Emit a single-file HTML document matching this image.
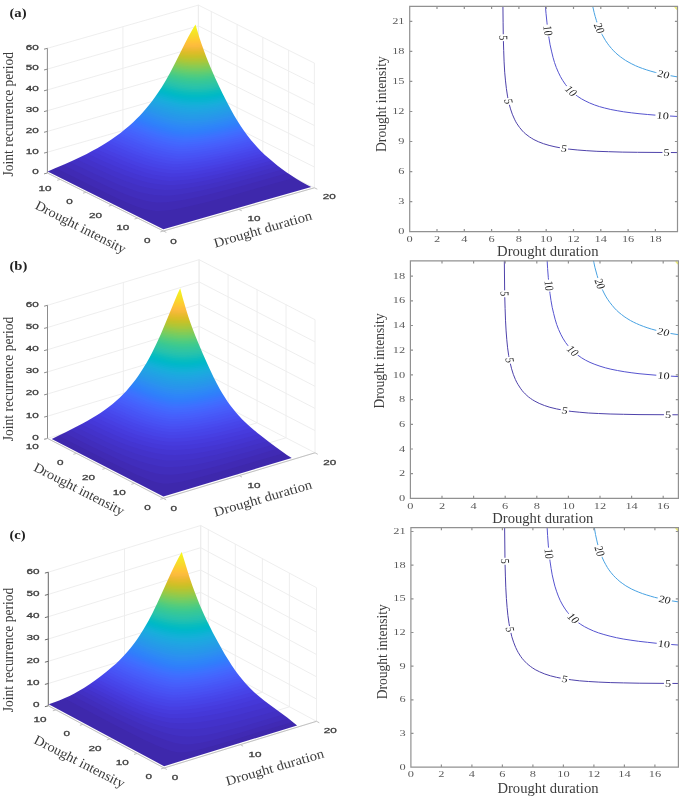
<!DOCTYPE html>
<html lang="en"><head><meta charset="utf-8"><title>Joint recurrence period of drought duration and intensity</title>
<style>html,body{margin:0;padding:0;background:#fff;overflow:hidden}svg{display:block}</style></head>
<body><svg width="685" height="800" viewBox="0 0 685 800">
<rect width="685" height="800" fill="#fff"/>
<g><path d="M47.4,173 L47.4,48.3 M122.9,151.4 L122.9,26.7 M198.4,129.8 L198.4,5.1 M47.4,173 L198.4,129.8 M198.4,129.8 L314.4,187.8 M47.4,152.2 L198.4,109 M198.4,109 L314.4,167 M47.4,131.4 L198.4,88.2 M198.4,88.2 L314.4,146.2 M47.4,110.7 L198.4,67.5 M198.4,67.5 L314.4,125.5 M47.4,89.9 L198.4,46.7 M198.4,46.7 L314.4,104.7 M47.4,69.1 L198.4,25.9 M198.4,25.9 L314.4,83.9 M47.4,48.3 L198.4,5.1 M198.4,5.1 L314.4,63.1 M314.4,187.8 L314.4,63.1 M288.6,174.9 L288.6,50.2 M262.8,162 L262.8,37.3 M237.1,149.1 L237.1,24.5 M211.3,136.2 L211.3,11.6 M198.4,129.8 L198.4,5.1 M163.4,231 L47.4,173 M238.9,209.4 L122.9,151.4 M163.4,231 L314.4,187.8 M137.6,218.1 L288.6,174.9 M111.8,205.2 L262.8,162 M86.1,192.3 L237.1,149.1 M60.3,179.4 L211.3,136.2" stroke="#ececec" stroke-width="0.9" fill="none"/>
<path d="M47.4,173 L47.4,48.3 M47.4,173 L44,173.9 M47.4,152.2 L44,153.1 M47.4,131.4 L44,132.3 M47.4,110.7 L44,111.6 M47.4,89.9 L44,90.8 M47.4,69.1 L44,70 M47.4,48.3 L44,49.2" stroke="#8c8c8c" stroke-width="1" fill="none"/>
<path d="M47.4,173 L163.4,231 M163.4,231 L314.4,187.8 M163.4,231 L160.3,231.9 M137.6,218.1 L134.5,219 M111.8,205.2 L108.8,206.1 M86.1,192.3 L83,193.2 M60.3,179.4 L57.2,180.3 M163.4,231 L166.3,232.4 M238.9,209.4 L241.8,210.8 M314.4,187.8 L317.3,189.2" stroke="#bcbcbc" stroke-width="0.9" fill="none"/>
<mask id="sila" maskUnits="userSpaceOnUse" x="0" y="0" width="685" height="800"><path d="M163.4,229.3L311.2,187 306.3,184.5 301.3,181.7 296.3,178.7 291.4,175.6 286.4,172.2 282.3,169.3 277.3,165.5 273.2,162.1 269.1,158.6 264.9,154.9 260.8,150.9 257.5,147.4 254.2,143.8 250.9,139.9 247.6,135.7 244.3,131.3 241,126.4 237.7,121.2 234.3,115.7 231,109.7 226.9,102 222.8,93.9 218.6,85.3 215.3,78.2 212,70.8 208.7,63 206.2,56.8 203.8,50.2 201.3,43.2 199.6,38.2 198,33 195.5,24.6 192.3,29.7 188.1,37.3 184.9,43.5 175.4,62.6 170.1,72.7 165.9,80.2 161.7,87.2 158.5,92.1 155.4,96.6 152.2,100.9 149,105 145.9,108.8 142.7,112.4 139.5,115.9 136.4,119.1 133.2,122.2 129,126 124.7,129.6 120.5,133 116.3,136.1 111,139.8 106.8,142.6 101.5,145.8 97.3,148.3 92,151.1 86.7,153.9 80.4,157 73,160.4 64.6,164.2 55,168.3 47.7,171.5 163.4,229.3Z" fill="#fff"/></mask>
<g mask="url(#sila)">
<rect x="44.7" y="21.6" width="269.6" height="210.7" fill="#3e28ac"/>
<path d="M55.6,168.1L103.2,191.5L117.7,198.4L128.4,203.2L136.1,206.3L143.2,208.7L149.4,210.1L152.4,210.6L155.8,210.9L158.8,211L163.4,210.8L171.4,209.9L181.2,208.1L193.8,205.2L209.2,201.4L229.8,195.9L294.7,177.7L302.7,177.7L302.7,21.6L47.6,21.6L47.6,168.1Z" fill="#402ab4"/>
<path d="M62.9,164.9L87.2,176.8L103.4,184.5L116.5,190.5L127.3,195L135.7,198L143.6,200.3L150.6,201.7L154.9,202.2L158.7,202.4L166.7,202.2L176.1,201.1L186,199.5L198.9,196.8L213.5,193.3L232.1,188.5L257.9,181.5L287.7,173.1L295.7,173.1L295.7,21.6L54.9,21.6L54.9,164.9Z" fill="#412dbc"/>
<path d="M69.7,161.9L91.7,172.5L106.5,179.3L118.2,184.4L128.7,188.5L138.3,191.7L146.8,193.8L154.5,195L162.3,195.6L170.1,195.4L179.7,194.4L191.1,192.6L202.9,190.2L217.7,186.8L235.3,182.3L256.9,176.5L282.5,169.4L290.5,169.4L290.5,21.6L61.7,21.6L61.7,161.9Z" fill="#4230c3"/>
<path d="M76.1,159L95.8,168.3L109,174.3L120,178.9L129.7,182.6L139.4,185.7L147.9,187.8L156.5,189.3L164.8,190L173.1,189.7L182.4,188.8L192.7,187.3L204.7,185L218.4,181.9L235.1,177.8L255.8,172.4L278.3,166.2L286.3,166.2L286.3,21.6L68.1,21.6L68.1,159Z" fill="#4332ca"/>
<path d="M82,156.2L100.1,164.7L112.5,170.2L123.7,174.8L132.7,178.1L141.5,180.8L150,182.9L158.6,184.3L167.2,185.1L175,184.9L184.8,184L195.1,182.5L206,180.5L219.9,177.4L235.5,173.6L254.1,168.8L274.6,163.3L282.6,163.3L282.6,21.6L74,21.6L74,156.2Z" fill="#4435d1"/>
<path d="M87.2,153.6L103.8,161.2L115.4,166.3L125.8,170.5L134.8,173.8L143.6,176.5L152.2,178.6L160.7,180L169.2,180.9L176.9,180.6L186.7,179.7L195.8,178.4L206.8,176.4L219.6,173.7L235.4,170L253,165.5L271.3,160.5L279.3,160.5L279.3,21.6L79.2,21.6L79.2,153.6Z" fill="#4538d8"/>
<path d="M92,151.2L107.8,158.3L118.6,163L128.1,166.8L137.2,170.1L146,172.7L154,174.7L161.8,176L170.2,177L178.1,176.8L187.1,176L197,174.6L208,172.6L220.9,169.9L235.6,166.5L251.1,162.6L268.4,158L276.4,158L276.4,21.6L84,21.6L84,151.2Z" fill="#463bdd"/>
<path d="M96.2,148.9L111.3,155.6L122.2,160.3L131.8,164L139.9,166.9L147.7,169.2L156.4,171.3L165,172.7L172,173.5L179.8,173.2L188.2,172.4L197.3,171.2L208.4,169.3L221.4,166.6L235,163.5L250.5,159.6L265.7,155.6L273.7,155.6L273.7,21.6L88.2,21.6L88.2,148.9Z" fill="#473fe2"/>
<path d="M100.1,146.7L114.3,153L125.3,157.6L135,161.4L143.3,164.2L151.2,166.5L158.8,168.2L167.5,169.6L174.3,170.2L182.9,169.8L191.5,168.9L200.6,167.6L210.4,165.8L222.1,163.4L234.7,160.5L249.1,157L263.2,153.2L271.2,153.2L271.2,21.6L92.1,21.6L92.1,146.7Z" fill="#4743e7"/>
<path d="M103.6,144.6L118,150.9L127.2,154.7L135.8,158.1L144.1,160.9L151.9,163.2L159.4,165L167.1,166.3L174.6,167.2L182.7,166.8L191.2,166L200.3,164.7L210.2,163L220.8,160.8L233.4,158L246.8,154.7L261,151L269,151L269,21.6L95.6,21.6L95.6,144.6Z" fill="#4746ea"/>
<path d="M106.9,142.5L129.6,152.3L138.4,155.6L145.6,158.1L153.4,160.4L160.9,162.2L167.9,163.4L175,164.2L181.3,164.1L189.8,163.3L199,162.1L209,160.5L220.9,158.1L232.4,155.6L245.8,152.3L258.9,148.9L266.9,148.9L266.9,21.6L98.9,21.6L98.9,142.5Z" fill="#484aee"/>
<path d="M109.9,140.6L131.8,149.9L140.6,153.2L147.9,155.7L155.8,158L163,159.6L170.5,160.9L176.8,161.5L183.1,161.3L191.3,160.5L200.5,159.3L210.4,157.6L219.9,155.7L231.5,153.2L243.8,150.2L256.9,146.8L264.9,146.8L264.9,21.6L101.9,21.6L101.9,140.6Z" fill="#484ef1"/>
<path d="M112.7,138.7L125.4,144.2L134.8,148L142.6,150.9L150,153.4L156.8,155.3L164.3,157.1L170.5,158.1L177,158.9L183.2,158.7L191.6,157.9L200.8,156.7L209.5,155.2L220.3,153.2L230.7,150.9L243.1,147.9L255.1,144.8L263.1,144.8L263.1,21.6L104.7,21.6L104.7,138.7Z" fill="#4852f4"/>
<path d="M115.3,136.9L136.6,145.7L144.4,148.7L151.8,151.1L158.7,153L166.3,154.8L173.1,155.8L178.8,156.4L185.2,156.1L193.5,155.3L201.3,154.2L211.3,152.5L220.8,150.7L231.2,148.4L242.4,145.7L253.4,142.9L261.4,142.9L261.4,21.6L107.3,21.6L107.3,136.9Z" fill="#4755f6"/>
<path d="M117.8,135.1L138.2,143.5L146.1,146.5L153.5,148.9L160.4,150.8L166.8,152.2L172.5,153.2L179,153.9L185.8,153.6L192.8,153L200.7,152L210.7,150.3L220.3,148.5L229.5,146.5L240.8,143.8L251.7,141L259.7,141L259.7,21.6L109.8,21.6L109.8,135.1Z" fill="#4759f8"/>
<path d="M120.1,133.3L139.6,141.4L146.6,143.9L153.9,146.4L160.7,148.3L167,149.8L172.7,150.8L179.1,151.5L183.9,151.5L192.2,150.8L200.2,149.8L209,148.4L218.7,146.6L228,144.6L238.1,142.2L250.2,139.1L258.2,139.1L258.2,21.6L112.1,21.6L112.1,133.3Z" fill="#475dfa"/>
<path d="M122.3,131.6L141.9,139.6L150,142.5L156.4,144.6L162.1,146.2L168.5,147.6L175.4,148.8L180.8,149.3L187.5,149L194.5,148.3L202.3,147.3L209.9,146.1L219.5,144.2L228.8,142.2L248.8,137.3L256.8,137.3L256.8,21.6L114.3,21.6L114.3,131.6Z" fill="#4660fc"/>
<path d="M124.4,129.9L143.2,137.5L150.2,140.1L156.5,142.2L162.2,143.8L168.5,145.2L174.3,146.3L180.8,147L187,146.8L194.1,146.2L202,145.2L209.6,144L218,142.4L227.4,140.4L247.4,135.5L255.4,135.5L255.4,21.6L116.4,21.6L116.4,129.9Z" fill="#4464fd"/>
<path d="M126.4,128.2L145.3,135.8L152.3,138.4L158.7,140.4L164.6,142L171,143.4L176.8,144.4L181.8,144.9L188.1,144.6L195.1,144L201.8,143.2L209.3,142L217.8,140.4L226,138.7L235.1,136.6L246.1,133.8L254.1,133.8L254.1,21.6L118.4,21.6L118.4,128.2Z" fill="#4368fe"/>
<path d="M128.3,126.6L146.3,133.8L152.3,136L158.7,138.1L164.4,139.7L170.7,141.1L176.4,142.1L181.4,142.7L186.3,142.6L193.5,142.1L201.6,141.2L209.2,140L217.7,138.4L225.9,136.7L244.8,132.1L252.8,132.1L252.8,21.6L120.3,21.6L120.3,126.6Z" fill="#406cfe"/>
<path d="M130.1,125L147.2,131.8L154.3,134.3L159.6,136.1L165.3,137.7L171.7,139.1L177.4,140.1L182.3,140.6L187.6,140.5L194.8,140L201.5,139.2L209.1,138L217.6,136.4L225.8,134.7L243.6,130.4L251.6,130.4L251.6,21.6L122.1,21.6L122.1,125Z" fill="#3e70ff"/>
<path d="M131.9,123.4L149,130.2L156.1,132.7L161.6,134.4L167.4,136L172.5,137.1L178.3,138.1L183.4,138.6L188.9,138.4L194.7,138L201.4,137.2L209.1,136.1L216.4,134.7L224.6,133L242.5,128.7L250.5,128.7L250.5,21.6L123.9,21.6L123.9,123.4Z" fill="#3a74fe"/>
<path d="M133.5,121.8L149.8,128.2L155.9,130.4L162.3,132.5L168.2,134L173.3,135.2L179.2,136.1L184,136.5L189.4,136.4L195.5,136L201.4,135.3L209.1,134.2L216.4,132.8L224.6,131.1L241.4,127.1L249.4,127.1L249.4,21.6L125.5,21.6L125.5,121.8Z" fill="#3678fd"/>
<path d="M135.2,120.3L150.5,126.3L157.6,128.8L163,130.5L168.9,132.1L174.1,133.2L179.6,134.1L183.7,134.5L188.7,134.5L194.6,134.1L201.4,133.4L207.9,132.5L215.3,131.2L223.5,129.5L240.3,125.4L248.3,125.4L248.3,21.6L127.2,21.6L127.2,120.3Z" fill="#327cfc"/>
<path d="M136.7,118.8L152.1,124.8L163.7,128.6L169.5,130.2L174.3,131.2L179.3,132L184,132.5L188.6,132.5L194.6,132.2L200.9,131.6L208,130.6L215.4,129.3L222.4,127.9L239.3,123.8L247.3,123.8L247.3,21.6L128.7,21.6L128.7,118.8Z" fill="#3080fa"/>
<path d="M138.2,117.2L153.7,123.2L159.9,125.3L165.4,127L170.1,128.3L175.3,129.4L179.7,130.1L184.8,130.6L189.2,130.6L194.7,130.3L201.6,129.6L208.1,128.7L215.5,127.5L222.6,126L238.3,122.3L246.3,122.3L246.3,21.6L130.2,21.6L130.2,117.2Z" fill="#2e84f9"/>
<path d="M139.7,115.7L154.2,121.3L160.4,123.5L165.9,125.1L170.7,126.4L175.9,127.5L180.3,128.2L185.1,128.6L189.9,128.7L195.3,128.4L200.4,127.9L207,127.1L214.4,125.8L221.6,124.4L237.3,120.7L245.3,120.7L245.3,21.6L131.7,21.6L131.7,115.7Z" fill="#2e87f7"/>
<path d="M141,114.2L155.7,119.8L161.9,121.9L167.5,123.6L172.4,124.8L177.8,125.8L182.5,126.4L186.1,126.7L190.5,126.8L195.8,126.5L201.9,126L207.2,125.3L213.4,124.2L220.6,122.8L236.4,119.1L244.4,119.1L244.4,21.6L133,21.6L133,114.2Z" fill="#2d8bf4"/>
<path d="M142.4,112.8L156.1,118L162.3,120.1L167.9,121.7L173.3,123L178.3,124L183,124.5L186.7,124.8L191,124.9L196.2,124.7L202.1,124.1L207.4,123.4L213.6,122.4L220.8,121L235.5,117.6L243.5,117.6L243.5,21.6L134.4,21.6L134.4,112.8Z" fill="#2c8ef1"/>
<path d="M143.7,111.3L157.5,116.5L168.3,119.9L173.2,121.1L177.3,121.9L181.9,122.5L186.8,122.9L191.5,123L196.6,122.8L202.3,122.3L207.4,121.7L219.8,119.5L234.6,116L242.6,116L242.6,21.6L135.7,21.6L135.7,111.3Z" fill="#2b92ef"/>
<path d="M145,109.9L157.8,114.6L163.1,116.4L168.7,118L173.6,119.2L177.7,120L182.3,120.6L186.9,121L191.9,121.1L196.9,121L206.6,120L212.9,119.1L218.9,117.9L233.7,114.5L241.7,114.5L241.7,21.6L137,21.6L137,109.9Z" fill="#2895ec"/>
<path d="M146.2,108.4L159.1,113.2L164.4,114.9L170.1,116.5L175.3,117.7L179.5,118.4L184.4,118.9L188.1,119.2L192.3,119.3L197.2,119.2L202.8,118.7L207.6,118.2L219.2,116.1L232.8,113L240.8,113L240.8,21.6L138.2,21.6L138.2,108.4Z" fill="#2798ea"/>
<path d="M147.4,107L160.4,111.7L170.2,114.6L175.6,115.8L179.9,116.5L184.7,117.1L188.3,117.4L192.5,117.5L197.4,117.4L201.7,117.1L207.1,116.5L218.3,114.6L232,111.5L240,111.5L240,21.6L139.4,21.6L139.4,107Z" fill="#259be8"/>
<path d="M148.5,105.6L160.6,109.9L170.7,112.9L175.9,114L180.1,114.7L188.6,115.6L192.8,115.7L197.6,115.6L202,115.3L207.4,114.7L218.6,112.8L231.2,110L239.2,110L239.2,21.6L140.5,21.6L140.5,105.6Z" fill="#249ee6"/>
<path d="M149.7,104.2L160.8,108.1L170.9,111.1L176.1,112.2L180.3,112.9L188.7,113.8L193.1,113.9L197.9,113.8L202.3,113.5L207.7,112.9L217.7,111.3L230.4,108.5L238.4,108.5L238.4,21.6L141.7,21.6L141.7,104.2Z" fill="#22a1e4"/>
<path d="M150.8,102.8L162,106.7L171.1,109.3L176.2,110.4L180.5,111.1L188.8,112L193.4,112.2L197.7,112.1L202.6,111.8L207.2,111.3L217.5,109.7L229.6,107L237.6,107L237.6,21.6L142.8,21.6L142.8,102.8Z" fill="#20a4e3"/>
<path d="M151.8,101.4L162.1,104.9L172.5,107.8L180.6,109.4L188.9,110.3L192.9,110.4L197.6,110.4L207.1,109.6L217.2,108L228.8,105.5L236.8,105.5L236.8,21.6L143.8,21.6L143.8,101.4Z" fill="#1ea7e1"/>
<path d="M152.9,100L163.3,103.5L172.6,106L180.7,107.6L188.9,108.5L197.4,108.7L206.7,108L216.4,106.5L228,104L236,104L236,21.6L144.9,21.6L144.9,100Z" fill="#1baade"/>
<path d="M153.9,98.6L163.3,101.7L172.6,104.3L180.8,105.9L185.3,106.5L189.3,106.8L197.8,106.9L206.5,106.3L216.7,104.8L227.2,102.5L235.2,102.5L235.2,21.6L145.9,21.6L145.9,98.6Z" fill="#19addc"/>
<path d="M154.9,97.2L164.4,100.3L173.9,102.8L182.1,104.4L190.6,105.2L198.3,105.2L206.9,104.6L215.9,103.3L226.4,101.1L234.4,101.1L234.4,21.6L146.9,21.6L146.9,97.2Z" fill="#14b0d8"/>
<path d="M155.9,95.8L165.5,98.9L175.1,101.4L183.6,102.9L190.5,103.5L198.7,103.6L207.4,102.9L216.3,101.6L225.7,99.6L233.7,99.6L233.7,21.6L147.9,21.6L147.9,95.8Z" fill="#0fb2d5"/>
<path d="M156.9,94.5L166.6,97.5L175,99.7L183.5,101.2L190.8,101.8L199,101.9L206.5,101.4L215.5,100.1L224.9,98.1L232.9,98.1L232.9,21.6L148.9,21.6L148.9,94.5Z" fill="#09b4d1"/>
<path d="M157.8,93.1L167.6,96.1L176.2,98.2L183.3,99.5L191.4,100.2L198.7,100.3L206.9,99.7L214.7,98.6L224.2,96.7L232.2,96.7L232.2,21.6L149.8,21.6L149.8,93.1Z" fill="#04b6cd"/>
<path d="M158.7,91.8L167.5,94.4L176.1,96.5L184,97.9L191.7,98.6L198.7,98.6L206.1,98.1L213.9,97.1L223.5,95.2L231.5,95.2L231.5,21.6L150.7,21.6L150.7,91.8Z" fill="#01b8c9"/>
<path d="M159.6,90.4L168.5,93.1L175.9,94.9L184.4,96.3L191.3,96.9L199.3,97L206.5,96.5L214.4,95.4L222.7,93.8L230.7,93.8L230.7,21.6L151.6,21.6L151.6,90.4Z" fill="#02bac4"/>
<path d="M160.5,89.1L169.1,91.6L177,93.5L184.2,94.7L191.5,95.3L198.3,95.4L205.7,95L213.6,93.9L222,92.3L230,92.3L230,21.6L152.5,21.6L152.5,89.1Z" fill="#07bcc0"/>
<path d="M161.3,87.7L169.2,90L178.1,92.1L185.4,93.2L192.2,93.8L198.9,93.8L206.3,93.3L214.1,92.3L221.3,90.9L229.3,90.9L229.3,21.6L153.3,21.6L153.3,87.7Z" fill="#0dbdbb"/>
<path d="M162.2,86.4L170.2,88.7L177.6,90.4L185,91.5L191.1,92.1L198,92.2L205.4,91.8L213.4,90.8L220.6,89.4L228.6,89.4L228.6,21.6L154.2,21.6L154.2,86.4Z" fill="#16bfb7"/>
<path d="M163,85.1L171.1,87.3L178.7,89L185.8,90.1L191.8,90.6L198.1,90.7L204.6,90.3L212.6,89.3L219.9,88L227.9,88L227.9,21.6L155,21.6L155,85.1Z" fill="#1ec0b2"/>
<path d="M163.8,83.8L171.1,85.8L178.5,87.4L184.6,88.3L191.1,88.9L197.7,89.1L205.2,88.7L211.9,87.9L219.2,86.6L227.2,86.6L227.2,21.6L155.8,21.6L155.8,83.8Z" fill="#25c2ad"/>
<path d="M164.6,82.5L171.6,84.3L178.3,85.8L185.5,86.9L191.5,87.4L198.4,87.5L204.4,87.2L211.2,86.4L218.6,85.2L226.6,85.2L226.6,21.6L156.6,21.6L156.6,82.5Z" fill="#2ac3a9"/>
<path d="M165.4,81.1L172.5,83L179.1,84.4L185,85.3L192,85.9L198.5,86L205,85.6L211.7,84.8L217.9,83.7L225.9,83.7L225.9,21.6L157.4,21.6L157.4,81.1Z" fill="#2ec5a4"/>
<path d="M166.1,79.8L172.3,81.4L178.6,82.8L185.3,83.8L191.4,84.3L197.8,84.4L204.3,84.1L211,83.4L217.2,82.3L225.2,82.3L225.2,21.6L158.1,21.6L158.1,79.8Z" fill="#32c69e"/>
<path d="M166.9,78.5L172.9,80.1L179.6,81.4L186.3,82.4L192.2,82.8L197.4,82.9L203.5,82.7L210.3,81.9L216.6,80.9L224.6,80.9L224.6,21.6L158.9,21.6L158.9,78.5Z" fill="#36c799"/>
<path d="M167.6,77.2L173.7,78.7L180.5,80L186.7,80.9L192.1,81.3L198.1,81.4L204.2,81.1L209.6,80.5L215.9,79.5L223.9,79.5L223.9,21.6L159.6,21.6L159.6,77.2Z" fill="#3ac993"/>
<path d="M168.4,75.9L174.5,77.4L180,78.5L186.3,79.3L192.1,79.8L197.3,79.9L203.4,79.6L208.9,79L215.3,78.1L223.3,78.1L223.3,21.6L160.4,21.6L160.4,75.9Z" fill="#40ca8d"/>
<path d="M169.1,74.6L175.3,76.1L180.9,77.1L187.1,77.9L192.6,78.3L198.1,78.4L202.7,78.2L208.3,77.6L214.6,76.7L222.6,76.7L222.6,21.6L161.1,21.6L161.1,74.6Z" fill="#47cb87"/>
<path d="M169.8,73.3L176.1,74.8L181.8,75.8L186.5,76.4L192.2,76.8L197.3,76.9L203.4,76.6L208.9,76L214,75.2L222,75.2L222,21.6L161.8,21.6L161.8,73.3Z" fill="#4fcc80"/>
<path d="M170.5,72.1L176.9,73.5L182.7,74.4L187.5,75L193.1,75.3L198.1,75.4L202.7,75.2L208.3,74.6L213.4,73.8L221.4,73.8L221.4,21.6L162.5,21.6L162.5,72.1Z" fill="#57cc7a"/>
<path d="M171.2,70.8L176.3,71.9L182,72.9L186.8,73.4L192.3,73.8L197.4,73.9L202,73.7L207.6,73.2L212.8,72.4L220.8,72.4L220.8,21.6L163.2,21.6L163.2,70.8Z" fill="#60cd72"/>
<path d="M171.9,69.5L181.4,71.3L186.1,71.9L191.5,72.3L196.6,72.4L201.3,72.3L207,71.8L212.1,71.1L220.1,71.1L220.1,21.6L163.9,21.6L163.9,69.5Z" fill="#69cd6b"/>
<path d="M172.5,68.2L177.5,69.2L182.4,70L187,70.6L192.4,70.9L197.5,70.9L202.1,70.7L206.3,70.4L211.5,69.7L219.5,69.7L219.5,21.6L164.5,21.6L164.5,68.2Z" fill="#72cd64"/>
<path d="M173.2,66.9L178.6,68L183,68.7L191.7,69.4L196.8,69.5L201.4,69.3L205.7,69L210.9,68.3L218.9,68.3L218.9,21.6L165.2,21.6L165.2,66.9Z" fill="#7ccc5c"/>
<path d="M173.9,65.6L179.3,66.7L183.9,67.3L192.7,68L200.8,67.9L205.1,67.6L210.3,66.9L218.3,66.9L218.3,21.6L165.9,21.6L165.9,65.6Z" fill="#85cb55"/>
<path d="M174.5,64.4L183.1,65.8L191.9,66.5L200.1,66.5L204.4,66.2L209.8,65.5L217.8,65.5L217.8,21.6L166.5,21.6L166.5,64.4Z" fill="#8fcb4e"/>
<path d="M175.2,63.1L183.9,64.5L189.1,65L193,65.1L201,65L209.2,64.1L217.2,64.1L217.2,21.6L167.2,21.6L167.2,63.1Z" fill="#98c947"/>
<path d="M175.8,61.8L184.5,63.2L192.2,63.7L200.3,63.6L208.6,62.8L216.6,62.8L216.6,21.6L167.8,21.6L167.8,61.8Z" fill="#a2c840"/>
<path d="M176.4,60.5L180.7,61.3L185.5,61.9L193,62.3L200.4,62.2L208.1,61.4L216.1,61.4L216.1,21.6L168.4,21.6L168.4,60.5Z" fill="#abc739"/>
<path d="M177.1,59.3L185,60.4L192.6,60.9L200.6,60.7L207.5,60L215.5,60L215.5,21.6L169.1,21.6L169.1,59.3Z" fill="#b3c534"/>
<path d="M177.7,58L184.3,58.9L192,59.5L200,59.3L207,58.7L215,58.7L215,21.6L169.7,21.6L169.7,58Z" fill="#bcc42f"/>
<path d="M178.3,56.7L185.6,57.7L193.1,58.1L199.4,58L206.4,57.3L214.4,57.3L214.4,21.6L170.3,21.6L170.3,56.7Z" fill="#c4c22a"/>
<path d="M179,55.5L185.3,56.3L192.4,56.7L198.9,56.6L205.9,56L213.9,56L213.9,21.6L171,21.6L171,55.5Z" fill="#ccc028"/>
<path d="M179.6,54.2L186,55L191.8,55.3L198.3,55.2L205.4,54.6L213.4,54.6L213.4,21.6L171.6,21.6L171.6,54.2Z" fill="#d4bf28"/>
<path d="M180.2,52.9L186.8,53.7L192.9,53.9L199.3,53.8L204.9,53.3L212.9,53.3L212.9,21.6L172.2,21.6L172.2,52.9Z" fill="#dbbd29"/>
<path d="M180.9,51.7L186.9,52.3L192.3,52.5L198.7,52.4L204.4,51.9L212.4,51.9L212.4,21.6L172.9,21.6L172.9,51.7Z" fill="#e2bc2b"/>
<path d="M181.5,50.4L186.5,50.9L192.4,51.2L198.2,51.1L203.9,50.6L211.9,50.6L211.9,21.6L173.5,21.6L173.5,50.4Z" fill="#e8bb2f"/>
<path d="M182.1,49.1L187.6,49.6L192.9,49.8L197.7,49.7L203.4,49.3L211.4,49.3L211.4,21.6L174.1,21.6L174.1,49.1Z" fill="#eeba34"/>
<path d="M182.7,47.9L187,48.2L192.4,48.5L197.2,48.4L202.9,47.9L210.9,47.9L210.9,21.6L174.7,21.6L174.7,47.9Z" fill="#f4ba39"/>
<path d="M183.4,46.6L188.3,47L193.5,47.1L198.2,46.9L202.4,46.6L210.4,46.6L210.4,21.6L175.4,21.6L175.4,46.6Z" fill="#f9bb3d"/>
<path d="M184,45.3L187.7,45.6L193,45.8L197.7,45.6L202,45.3L210,45.3L210,21.6L176,21.6L176,45.3Z" fill="#fdbd3d"/>
<path d="M184.6,44L192.5,44.4L197.2,44.3L201.5,44L209.5,44L209.5,21.6L176.6,21.6L176.6,44Z" fill="#fec03a"/>
<path d="M185.3,42.8L193.6,43.1L201.1,42.6L209.1,42.6L209.1,21.6L177.3,21.6L177.3,42.8Z" fill="#fec437"/>
<path d="M185.9,41.5L193.1,41.7L200.6,41.3L208.6,41.3L208.6,21.6L177.9,21.6L177.9,41.5Z" fill="#fec835"/>
<path d="M186.6,40.2L192.8,40.4L200.2,40L208.2,40L208.2,21.6L178.6,21.6L178.6,40.2Z" fill="#fdcc32"/>
<path d="M187.2,38.9L193.8,39.1L199.8,38.7L207.8,38.7L207.8,21.6L179.2,21.6L179.2,38.9Z" fill="#fcd030"/>
<path d="M187.9,37.7L193.4,37.7L199.4,37.4L207.4,37.4L207.4,21.6L179.9,21.6L179.9,37.7Z" fill="#fad42e"/>
<path d="M188.6,36.4L194.5,36.4L199,36.1L207,36.1L207,21.6L180.6,21.6L180.6,36.4Z" fill="#f8d92c"/>
<path d="M189.3,35.1L194.1,35.1L198.5,34.8L206.5,34.8L206.5,21.6L181.3,21.6L181.3,35.1Z" fill="#f7dd2a"/>
<path d="M190,33.8L193.6,33.8L198.1,33.6L206.1,33.6L206.1,21.6L182,21.6L182,33.8Z" fill="#f6e128"/>
<path d="M190.7,32.5L197.7,32.3L205.7,32.3L205.7,21.6L182.7,21.6L182.7,32.5Z" fill="#f5e526"/>
<path d="M191.4,31.2L197.4,31L205.4,31L205.4,21.6L183.4,21.6L183.4,31.2Z" fill="#f5e924"/>
<path d="M192.2,29.9L197,29.7L205,29.7L205,21.6L184.2,21.6L184.2,29.9Z" fill="#f5ed21"/>
<path d="M193,28.6L196.6,28.4L204.6,28.4L204.6,21.6L185,21.6L185,28.6Z" fill="#f6f11e"/>
<path d="M193.8,27.3L196.2,27.1L204.2,27.1L204.2,21.6L185.8,21.6L185.8,27.3Z" fill="#f7f51b"/>
<path d="M194.6,25.9L195.9,25.9L203.9,25.9L203.9,21.6L186.6,21.6L186.6,25.9Z" fill="#f8f917"/>
</g>
<text transform="translate(38.7,174.3) scale(1.5,1)" text-anchor="end" font-family='"Liberation Sans","DejaVu Sans",sans-serif' font-size="7.8" fill="#3c3c3c" stroke="#3c3c3c" stroke-width="0.3">0</text>
<text transform="translate(38.7,153.5) scale(1.5,1)" text-anchor="end" font-family='"Liberation Sans","DejaVu Sans",sans-serif' font-size="7.8" fill="#3c3c3c" stroke="#3c3c3c" stroke-width="0.3">10</text>
<text transform="translate(38.7,132.7) scale(1.5,1)" text-anchor="end" font-family='"Liberation Sans","DejaVu Sans",sans-serif' font-size="7.8" fill="#3c3c3c" stroke="#3c3c3c" stroke-width="0.3">20</text>
<text transform="translate(38.7,112) scale(1.5,1)" text-anchor="end" font-family='"Liberation Sans","DejaVu Sans",sans-serif' font-size="7.8" fill="#3c3c3c" stroke="#3c3c3c" stroke-width="0.3">30</text>
<text transform="translate(38.7,91.2) scale(1.5,1)" text-anchor="end" font-family='"Liberation Sans","DejaVu Sans",sans-serif' font-size="7.8" fill="#3c3c3c" stroke="#3c3c3c" stroke-width="0.3">40</text>
<text transform="translate(38.7,70.4) scale(1.5,1)" text-anchor="end" font-family='"Liberation Sans","DejaVu Sans",sans-serif' font-size="7.8" fill="#3c3c3c" stroke="#3c3c3c" stroke-width="0.3">50</text>
<text transform="translate(38.7,49.6) scale(1.5,1)" text-anchor="end" font-family='"Liberation Sans","DejaVu Sans",sans-serif' font-size="7.8" fill="#3c3c3c" stroke="#3c3c3c" stroke-width="0.3">60</text>
<text transform="translate(45.1,191.4) scale(1.5,1)" text-anchor="middle" font-family='"Liberation Sans","DejaVu Sans",sans-serif' font-size="7.8" fill="#3c3c3c" stroke="#3c3c3c" stroke-width="0.3">10</text>
<text transform="translate(69.6,204.2) scale(1.5,1)" text-anchor="middle" font-family='"Liberation Sans","DejaVu Sans",sans-serif' font-size="7.8" fill="#3c3c3c" stroke="#3c3c3c" stroke-width="0.3">0</text>
<text transform="translate(95.4,217.7) scale(1.5,1)" text-anchor="middle" font-family='"Liberation Sans","DejaVu Sans",sans-serif' font-size="7.8" fill="#3c3c3c" stroke="#3c3c3c" stroke-width="0.3">20</text>
<text transform="translate(122.7,230.3) scale(1.5,1)" text-anchor="middle" font-family='"Liberation Sans","DejaVu Sans",sans-serif' font-size="7.8" fill="#3c3c3c" stroke="#3c3c3c" stroke-width="0.3">10</text>
<text transform="translate(147.3,242.8) scale(1.5,1)" text-anchor="middle" font-family='"Liberation Sans","DejaVu Sans",sans-serif' font-size="7.8" fill="#3c3c3c" stroke="#3c3c3c" stroke-width="0.3">0</text>
<text transform="translate(173.5,243.5) scale(1.5,1)" text-anchor="middle" font-family='"Liberation Sans","DejaVu Sans",sans-serif' font-size="7.8" fill="#3c3c3c" stroke="#3c3c3c" stroke-width="0.3">0</text>
<text transform="translate(254,220.7) scale(1.5,1)" text-anchor="middle" font-family='"Liberation Sans","DejaVu Sans",sans-serif' font-size="7.8" fill="#3c3c3c" stroke="#3c3c3c" stroke-width="0.3">10</text>
<text transform="translate(329.3,199.4) scale(1.5,1)" text-anchor="middle" font-family='"Liberation Sans","DejaVu Sans",sans-serif' font-size="7.8" fill="#3c3c3c" stroke="#3c3c3c" stroke-width="0.3">20</text>
<text transform="translate(78.7,231) rotate(27.2)" text-anchor="middle" textLength="100" lengthAdjust="spacingAndGlyphs" font-family='"Liberation Serif","DejaVu Serif",serif' font-size="13.5" fill="#3c3c3c">Drought intensity</text>
<text transform="translate(264,233.5) rotate(-16.25)" text-anchor="middle" textLength="101.5" lengthAdjust="spacingAndGlyphs" font-family='"Liberation Serif","DejaVu Serif",serif' font-size="13.5" fill="#3c3c3c">Drought duration</text>
<text transform="translate(13,114.2) rotate(-90)" text-anchor="middle" textLength="124.4" lengthAdjust="spacingAndGlyphs" font-family='"Liberation Serif","DejaVu Serif",serif' font-size="14.2" fill="#3c3c3c">Joint recurrence period</text>
<text transform="translate(9.5,17.4) scale(1.22,1)" font-family='"Liberation Serif","DejaVu Serif",serif' font-size="12" font-weight="bold" fill="#222">(a)</text></g>
<g><path d="M47.5,438.4 L47.5,305.3 M123.3,415.6 L123.3,282.5 M199.1,392.8 L199.1,259.7 M47.5,438.4 L199.1,392.8 M199.1,392.8 L315,452.8 M47.5,416.2 L199.1,370.6 M199.1,370.6 L315,430.6 M47.5,394 L199.1,348.4 M199.1,348.4 L315,408.4 M47.5,371.9 L199.1,326.3 M199.1,326.3 L315,386.3 M47.5,349.7 L199.1,304.1 M199.1,304.1 L315,364.1 M47.5,327.5 L199.1,281.9 M199.1,281.9 L315,341.9 M47.5,305.3 L199.1,259.7 M199.1,259.7 L315,319.7 M315,452.8 L315,319.7 M286,437.8 L286,304.7 M257.1,422.8 L257.1,289.7 M228.1,407.8 L228.1,274.7 M199.1,392.8 L199.1,259.7 M163.4,498.4 L47.5,438.4 M239.2,475.6 L123.3,415.6 M163.4,498.4 L315,452.8 M134.4,483.4 L286,437.8 M105.5,468.4 L257.1,422.8 M76.5,453.4 L228.1,407.8" stroke="#ececec" stroke-width="0.9" fill="none"/>
<path d="M47.5,438.4 L47.5,305.3 M47.5,438.4 L44.1,439.3 M47.5,416.2 L44.1,417.1 M47.5,394 L44.1,394.9 M47.5,371.9 L44.1,372.8 M47.5,349.7 L44.1,350.6 M47.5,327.5 L44.1,328.4 M47.5,305.3 L44.1,306.2" stroke="#8c8c8c" stroke-width="1" fill="none"/>
<path d="M47.5,438.4 L163.4,498.4 M163.4,498.4 L315,452.8 M163.4,498.4 L160.3,499.3 M134.4,483.4 L131.4,484.3 M105.5,468.4 L102.4,469.3 M76.5,453.4 L73.4,454.3 M47.5,438.4 L44.4,439.3 M163.4,498.4 L166.2,499.9 M239.2,475.6 L242,477.1 M315,452.8 L317.8,454.3" stroke="#bcbcbc" stroke-width="0.9" fill="none"/>
<mask id="silb" maskUnits="userSpaceOnUse" x="0" y="0" width="685" height="800"><path d="M163.4,496.6L291.7,458 286.9,454.9 281.4,451 275.8,447 269.4,442.2 263,437.3 257.5,432.9 252.7,428.9 248.7,425.4 245.5,422.5 242.3,419.4 239.1,416.1 236,412.5 232.8,408.6 230.4,405.5 228,402.2 225.6,398.6 222.4,393.5 220,389.4 216.8,383.5 213.6,377.2 209.7,369 206.5,362.1 202.5,353.1 198.5,343.6 195.3,335.7 192.9,329.5 190.5,322.9 188.1,316 185.8,308.4 184.2,303.1 182.6,297.4 180.2,288.2 177.4,294.3 174.7,300.7 165.5,323 160.9,333.9 156.3,344 151.8,353.3 149,358.4 146.3,363.3 143.5,367.8 140.8,372.1 138,376.2 135.3,380 132.5,383.6 128.8,388.1 126.1,391.2 122.4,395 119.7,397.7 116,401.1 112.3,404.2 108.7,407.1 105,409.8 100.4,412.9 96.8,415.3 92.2,418.1 87.6,420.7 82.1,423.7 74.8,427.6 65.6,432.2 58.3,435.8 51.8,438.9 163.4,496.6Z" fill="#fff"/></mask>
<g mask="url(#silb)">
<rect x="48.8" y="285.2" width="245.9" height="214.4" fill="#3e28ac"/>
<path d="M58.6,435.7L106.8,460.3L124.1,468.8L136.7,474.8L145.6,478.6L152.4,481.1L158.2,482.7L163.3,483.4L169.2,483.4L175.2,482.8L183.7,481.2L194.6,478.6L209,474.8L226.8,469.8L284.1,452.9L292.1,452.9L292.1,285.2L50.6,285.2L50.6,435.7Z" fill="#402ab4"/>
<path d="M64.6,432.7L89.6,445.4L105.2,453.1L118.7,459.5L131,464.9L141.3,469L149.5,471.7L156.6,473.5L160.7,474.2L163.9,474.6L170.5,474.7L174.4,474.5L179.3,474L189.3,472.4L200.6,470L214.4,466.7L230.6,462.3L252.1,456.2L278,448.6L286,448.6L286,285.2L56.6,285.2L56.6,432.7Z" fill="#412dbc"/>
<path d="M70.4,429.8L91.5,440.4L105.7,447.2L117.7,452.7L128.7,457.3L139.1,461.1L148.2,463.8L156.7,465.8L160.9,466.5L165,467L172.6,467.1L181.7,466.6L192.1,465.2L202.8,463.2L214.9,460.5L230.5,456.6L249.5,451.4L272.7,444.7L280.7,444.7L280.7,285.2L62.4,285.2L62.4,429.8Z" fill="#4230c3"/>
<path d="M75.9,427L94.8,436.3L107.4,442.3L118,446.9L128.3,451L138.4,454.5L148.5,457.3L157.4,459.2L162.5,460L166.2,460.4L175.1,460.5L184.3,460L193.8,458.9L204.8,457.1L217.1,454.5L230.9,451.1L248.2,446.6L267.8,441L275.8,441L275.8,285.2L67.9,285.2L67.9,427Z" fill="#4332ca"/>
<path d="M81.1,424.2L98.6,432.7L110.5,438.2L120.4,442.4L129.9,446.1L139.3,449.1L148.4,451.6L157.4,453.5L166.2,454.7L175.2,454.9L184.5,454.5L194.2,453.5L205.3,451.7L216.8,449.4L230.8,446.2L246.3,442.2L263.2,437.4L271.2,437.4L271.2,285.2L73.1,285.2L73.1,424.2Z" fill="#4435d1"/>
<path d="M86,421.6L102.8,429.6L113.1,434.3L122.1,438.1L130.8,441.4L139.1,444.1L148.2,446.6L157.1,448.5L166.2,449.8L175.2,450L184.5,449.5L194.3,448.6L204.4,447.1L216.1,444.9L229.2,441.9L243.8,438.2L259,434.1L267,434.1L267,285.2L78,285.2L78,421.6Z" fill="#4538d8"/>
<path d="M90.4,419.1L106.5,426.7L116.1,431L125.2,434.7L132.9,437.6L141.3,440.3L150.3,442.7L158.4,444.3L167.1,445.6L174.9,445.7L184.2,445.2L194,444.3L204.1,442.8L214.8,440.8L227,438.1L240.7,434.7L255,430.9L263,430.9L263,285.2L82.4,285.2L82.4,419.1Z" fill="#463bdd"/>
<path d="M94.4,416.7L108.9,423.5L118.5,427.7L127.7,431.5L135.5,434.4L144,437L152.2,439.1L160.5,440.8L168.3,441.8L176.9,441.7L185.9,441.2L195.5,440.1L204.5,438.8L215.1,436.8L226.3,434.3L238.1,431.4L251.5,427.8L259.5,427.8L259.5,285.2L86.4,285.2L86.4,416.7Z" fill="#473fe2"/>
<path d="M98,414.5L121.4,425L129.7,428.4L137.6,431.3L145,433.6L153.2,435.7L161,437.3L168.4,438.3L175.4,438.3L184.5,437.8L194.1,436.7L203.1,435.4L213.8,433.4L224,431.2L235.8,428.3L248.3,425L256.3,425L256.3,285.2L90,285.2L90,414.5Z" fill="#4743e7"/>
<path d="M101.3,412.3L124,422.5L132.3,425.8L139.2,428.3L146.7,430.6L153.6,432.5L161.4,434L168.7,435.1L175.7,435.1L184.8,434.5L193.1,433.6L202.1,432.2L211.8,430.5L222,428.3L233.9,425.4L245.4,422.4L253.4,422.4L253.4,285.2L93.3,285.2L93.3,412.3Z" fill="#4746ea"/>
<path d="M104.3,410.2L126.2,420L134.6,423.3L141.5,425.8L149.1,428.1L156.1,429.9L162.7,431.2L169.4,432.1L176.5,432L184.2,431.5L191.4,430.8L200.4,429.4L210.1,427.7L219.4,425.7L230.3,423.1L242.8,419.9L250.8,419.9L250.8,285.2L96.3,285.2L96.3,410.2Z" fill="#484aee"/>
<path d="M107.1,408.2L128.2,417.6L135.6,420.5L142.6,423L148.9,425L155.9,426.8L162.3,428.2L169.5,429.3L176.1,429.2L183.9,428.7L192.3,427.8L200.1,426.6L208.7,425.1L219,422.9L229.9,420.3L240.5,417.5L248.5,417.5L248.5,285.2L99.1,285.2L99.1,408.2Z" fill="#484ef1"/>
<path d="M109.6,406.3L129.9,415.2L137.4,418.2L144.3,420.7L150.7,422.6L157.8,424.4L164.3,425.8L170.6,426.6L176.2,426.6L183.9,426L191.1,425.2L200.1,423.9L208.6,422.3L217.9,420.4L227.8,418L238.4,415.2L246.4,415.2L246.4,285.2L101.6,285.2L101.6,406.3Z" fill="#4852f4"/>
<path d="M112,404.4L131.5,412.9L139,415.9L145.9,418.4L152.4,420.3L158.2,421.8L164.7,423.2L170.7,424L176.4,424L184.1,423.5L191.2,422.7L199.1,421.5L207.7,419.9L216.9,418L226.8,415.6L236.5,413.1L244.5,413.1L244.5,285.2L104,285.2L104,404.4Z" fill="#4755f6"/>
<path d="M114.2,402.6L133.8,411.1L140.3,413.7L146.3,415.8L152.7,417.8L158.4,419.3L164.8,420.6L171.1,421.6L176.8,421.5L183.2,421.1L190.4,420.3L198.3,419.2L205.8,417.8L215.1,415.9L224.1,413.7L234.7,411L242.7,411L242.7,285.2L106.2,285.2L106.2,402.6Z" fill="#4759f8"/>
<path d="M116.3,400.8L135,408.9L142.5,411.8L148.6,413.9L153.9,415.6L159.7,417.1L166.2,418.4L171.7,419.2L177.3,419.1L183.7,418.7L190.9,417.9L198.7,416.7L206.2,415.3L214.4,413.6L223.4,411.5L233,409L241,409L241,285.2L108.3,285.2L108.3,400.8Z" fill="#475dfa"/>
<path d="M118.2,399.1L137,407.1L143.6,409.7L149.7,411.8L155,413.4L160.9,414.9L167.4,416.2L172.4,416.9L178,416.8L184.3,416.3L190.3,415.7L198.2,414.5L205.7,413.1L213.9,411.4L231.5,407L239.5,407L239.5,285.2L110.2,285.2L110.2,399.1Z" fill="#4660fc"/>
<path d="M120.1,397.3L138,405L144.6,407.6L150.6,409.7L156,411.3L161.9,412.8L167.4,413.9L173.1,414.7L178.7,414.5L185.1,414.1L191,413.4L197.7,412.4L205.2,411L213.4,409.2L230.1,405.1L238.1,405.1L238.1,285.2L112.1,285.2L112.1,397.3Z" fill="#4464fd"/>
<path d="M121.8,395.7L138.9,402.9L145.5,405.5L151.5,407.6L156.9,409.2L162.8,410.7L168,411.8L172.5,412.4L176.9,412.4L183.4,412L190.6,411.3L197.4,410.3L204.9,408.9L212.1,407.4L228.7,403.2L236.7,403.2L236.7,285.2L113.8,285.2L113.8,395.7Z" fill="#4368fe"/>
<path d="M123.4,394L140.6,401.2L152.3,405.5L157.7,407.2L163.6,408.7L168.9,409.7L173.4,410.3L179.2,410.2L184.3,409.8L190.3,409.2L197.1,408.2L204.6,406.8L211.8,405.3L227.5,401.4L235.5,401.4L235.5,285.2L115.4,285.2L115.4,394Z" fill="#406cfe"/>
<path d="M125,392.4L141.3,399.2L153,403.5L158.4,405.1L163,406.3L168.2,407.4L173.1,408.1L177.5,408.1L182.8,407.9L188.9,407.3L195.8,406.3L202.3,405.2L209.5,403.7L226.3,399.6L234.3,399.6L234.3,285.2L117,285.2L117,392.4Z" fill="#3e70ff"/>
<path d="M126.5,390.7L141.9,397.2L153.6,401.5L159,403.1L163.7,404.3L168.5,405.3L173.3,406L177.4,406.1L183.9,405.8L189.9,405.1L195.6,404.3L202.1,403.2L209.4,401.7L225.1,397.9L233.1,397.9L233.1,285.2L118.5,285.2L118.5,390.7Z" fill="#3a74fe"/>
<path d="M127.9,389.1L144.3,396L155.2,399.9L160.7,401.5L165.5,402.6L169.5,403.4L174,404L178.4,404L183.7,403.8L189.7,403.2L195.5,402.4L208.2,400L224,396.1L232,396.1L232,285.2L119.9,285.2L119.9,389.1Z" fill="#3678fd"/>
<path d="M129.3,387.6L144.8,394L155.7,397.9L161.2,399.5L166,400.7L170,401.4L174.6,402L178.8,402L184,401.8L189.7,401.2L195.4,400.4L208.2,398L223,394.4L231,394.4L231,285.2L121.3,285.2L121.3,387.6Z" fill="#327cfc"/>
<path d="M130.6,386L146.2,392.4L157.2,396.3L161.6,397.6L166.4,398.7L171.5,399.6L175.1,400L179.5,400L184.6,399.8L189.7,399.3L195.4,398.5L208.1,396.1L221.9,392.7L229.9,392.7L229.9,285.2L122.6,285.2L122.6,386Z" fill="#3080fa"/>
<path d="M131.9,384.5L146.5,390.5L157.5,394.3L162,395.6L166.8,396.8L170.9,397.5L174.9,398L179.4,398.1L183.5,397.9L188.5,397.5L194.3,396.7L206.1,394.6L221,391L229,391L229,285.2L123.9,285.2L123.9,384.5Z" fill="#2e84f9"/>
<path d="M133.1,382.9L146.9,388.6L157.9,392.4L162.3,393.7L166.5,394.7L171,395.5L174.7,396L179.4,396.1L183.5,396L188.5,395.6L194.4,394.9L206.2,392.7L220,389.4L228,389.4L228,285.2L125.1,285.2L125.1,382.9Z" fill="#2e87f7"/>
<path d="M134.2,381.4L147.1,386.7L158.2,390.5L162.6,391.8L167.5,392.9L170.8,393.5L174.8,394L178.6,394.2L183.1,394.1L188.6,393.7L193.3,393.1L198.9,392.3L205.2,391L219.1,387.7L227.1,387.7L227.1,285.2L126.2,285.2L126.2,381.4Z" fill="#2d8bf4"/>
<path d="M135.4,379.9L148.3,385.1L158.4,388.6L162.9,389.9L167.8,391L172,391.7L175.2,392L179.3,392.2L183.6,392.2L188.7,391.8L193.4,391.3L199,390.4L205.3,389.2L218.2,386.1L226.2,386.1L226.2,285.2L127.4,285.2L127.4,379.9Z" fill="#2c8ef1"/>
<path d="M136.5,378.4L149.5,383.6L159.7,387.1L164.3,388.3L168,389.1L175.6,390.1L179.3,390.3L183.6,390.3L188.8,390L193.5,389.4L204.4,387.5L217.4,384.5L225.4,384.5L225.4,285.2L128.5,285.2L128.5,378.4Z" fill="#2b92ef"/>
<path d="M137.5,376.9L149.7,381.7L159.9,385.2L164.5,386.4L168.3,387.2L172.5,387.9L176.1,388.2L180.9,388.4L185.1,388.4L193.7,387.6L204.5,385.7L216.5,382.9L224.5,382.9L224.5,285.2L129.5,285.2L129.5,376.9Z" fill="#2895ec"/>
<path d="M138.5,375.4L150.8,380.2L160.1,383.3L164.7,384.5L168.4,385.3L172.5,386L176.1,386.3L184,386.6L187.8,386.4L192.7,385.9L198.3,385.1L203.7,384.1L215.7,381.3L223.7,381.3L223.7,285.2L130.5,285.2L130.5,375.4Z" fill="#2798ea"/>
<path d="M139.5,374L150.9,378.4L160.2,381.5L168.4,383.4L172.6,384.1L176.2,384.5L184.1,384.7L188,384.5L192.9,384.1L202.8,382.5L214.9,379.7L222.9,379.7L222.9,285.2L131.5,285.2L131.5,374Z" fill="#259be8"/>
<path d="M140.5,372.5L150.9,376.5L160.3,379.6L165,380.8L168.8,381.6L176.4,382.6L184.1,382.9L188.1,382.7L193.1,382.3L203,380.7L214.1,378.2L222.1,378.2L222.1,285.2L132.5,285.2L132.5,372.5Z" fill="#249ee6"/>
<path d="M141.4,371.1L152,375.1L160.7,377.8L168.9,379.8L176.6,380.8L184.3,381.1L188.3,380.9L193.3,380.4L202.2,379.1L213.3,376.6L221.3,376.6L221.3,285.2L133.4,285.2L133.4,371.1Z" fill="#22a1e4"/>
<path d="M142.4,369.6L153,373.6L161.6,376.2L168.9,377.9L173.1,378.6L176.8,379L184.5,379.3L188.5,379.1L193.5,378.6L202.4,377.3L212.6,375L220.6,375L220.6,285.2L134.4,285.2L134.4,369.6Z" fill="#20a4e3"/>
<path d="M143.3,368.2L153,371.8L161.6,374.4L169.2,376.2L173.2,376.8L177.1,377.2L184.8,377.5L192.5,377L201.6,375.7L211.8,373.5L219.8,373.5L219.8,285.2L135.3,285.2L135.3,368.2Z" fill="#1ea7e1"/>
<path d="M144.2,366.7L154,370.3L162.7,372.9L170.2,374.6L177.9,375.5L185.1,375.7L192.8,375.2L201.8,373.9L211.1,371.9L219.1,371.9L219.1,285.2L136.2,285.2L136.2,366.7Z" fill="#1baade"/>
<path d="M145,365.3L153.9,368.5L162.7,371.1L170.2,372.8L177.8,373.7L185.4,373.9L193.1,373.4L201,372.3L210.3,370.3L218.3,370.3L218.3,285.2L137,285.2L137,365.3Z" fill="#19addc"/>
<path d="M145.9,363.9L154.9,367.1L163.7,369.6L171.4,371.2L178.1,372L185.5,372.2L192.2,371.8L200.2,370.7L209.6,368.8L217.6,368.8L217.6,285.2L137.9,285.2L137.9,363.9Z" fill="#14b0d8"/>
<path d="M146.7,362.5L155.8,365.6L163.6,367.8L171.3,369.4L178.5,370.3L185.2,370.5L192.5,370L200.5,368.9L208.9,367.3L216.9,367.3L216.9,285.2L138.7,285.2L138.7,362.5Z" fill="#0fb2d5"/>
<path d="M147.5,361.1L156.7,364.2L164.6,366.3L171.4,367.7L178.9,368.6L185,368.8L192.8,368.3L199.7,367.4L208.1,365.7L216.1,365.7L216.1,285.2L139.5,285.2L139.5,361.1Z" fill="#09b4d1"/>
<path d="M148.3,359.7L156.5,362.4L164.5,364.6L172,366.1L178.6,366.9L185.4,367.1L192,366.7L199,365.8L207.4,364.2L215.4,364.2L215.4,285.2L140.3,285.2L140.3,359.7Z" fill="#04b6cd"/>
<path d="M149.1,358.3L157.4,361L164.2,362.8L172,364.4L178.3,365.1L184.4,365.4L191.6,365L198.9,364.1L206.7,362.7L214.7,362.7L214.7,285.2L141.1,285.2L141.1,358.3Z" fill="#01b8c9"/>
<path d="M149.9,356.9L157.8,359.4L165.2,361.4L171.7,362.7L178.7,363.5L184.9,363.7L191.5,363.4L198.6,362.5L206.1,361.1L214.1,361.1L214.1,285.2L141.9,285.2L141.9,356.9Z" fill="#02bac4"/>
<path d="M150.6,355.5L158.9,358.1L166.2,359.9L172.9,361.2L179.2,361.8L185.4,362L192,361.7L199,360.8L205.4,359.6L213.4,359.6L213.4,285.2L142.6,285.2L142.6,355.5Z" fill="#07bcc0"/>
<path d="M151.3,354.1L158.8,356.4L165.8,358.2L172.5,359.4L178.8,360.2L184.7,360.4L191.1,360.1L197.1,359.4L204.7,358.1L212.7,358.1L212.7,285.2L143.3,285.2L143.3,354.1Z" fill="#0dbdbb"/>
<path d="M152.1,352.7L159.6,355L166.6,356.7L173.2,357.9L178.7,358.5L184.9,358.7L190.3,358.5L196.4,357.9L204,356.6L212,356.6L212,285.2L144.1,285.2L144.1,352.7Z" fill="#16bfb7"/>
<path d="M152.8,351.3L159.4,353.3L166.4,355L173.2,356.3L179.4,356.9L185.5,357.1L190.8,356.8L196.8,356.2L203.4,355.1L211.4,355.1L211.4,285.2L144.8,285.2L144.8,351.3Z" fill="#1ec0b2"/>
<path d="M153.5,349.9L160,351.9L166,353.3L172.8,354.6L178.3,355.2L184.6,355.4L190,355.2L196.1,354.6L202.7,353.6L210.7,353.6L210.7,285.2L145.5,285.2L145.5,349.9Z" fill="#25c2ad"/>
<path d="M154.1,348.6L160.8,350.5L166.9,351.9L172.3,352.9L178.6,353.6L184.4,353.8L190.5,353.6L196.5,353L202.1,352.1L210.1,352.1L210.1,285.2L146.1,285.2L146.1,348.6Z" fill="#2ac3a9"/>
<path d="M154.8,347.2L160.4,348.8L166.4,350.2L172.4,351.3L178.1,351.9L183.7,352.2L189.8,352L195.9,351.4L201.4,350.6L209.4,350.6L209.4,285.2L146.8,285.2L146.8,347.2Z" fill="#2ec5a4"/>
<path d="M155.5,345.8L161.1,347.4L167.2,348.8L173.3,349.8L178.7,350.4L183.4,350.6L189,350.5L195.2,349.9L200.8,349.1L208.8,349.1L208.8,285.2L147.5,285.2L147.5,345.8Z" fill="#32c69e"/>
<path d="M156.1,344.5L161.8,346L167.8,347.4L173.7,348.3L178.6,348.8L184.1,349L189.2,348.9L194.5,348.4L200.1,347.6L208.1,347.6L208.1,285.2L148.1,285.2L148.1,344.5Z" fill="#36c799"/>
<path d="M156.8,343.1L162.5,344.6L167.6,345.7L173.1,346.6L178.5,347.2L183.6,347.4L188.8,347.3L193.8,346.9L199.5,346.1L207.5,346.1L207.5,285.2L148.8,285.2L148.8,343.1Z" fill="#3ac993"/>
<path d="M157.4,341.8L163.2,343.3L168.3,344.3L174,345.2L179,345.7L183.9,345.8L188.1,345.7L193.1,345.4L198.9,344.6L206.9,344.6L206.9,285.2L149.4,285.2L149.4,341.8Z" fill="#40ca8d"/>
<path d="M158,340.4L163.9,341.9L168.8,342.9L173.5,343.6L178.4,344.1L183.1,344.3L188.7,344.1L193.7,343.7L198.3,343.1L206.3,343.1L206.3,285.2L150,285.2L150,340.4Z" fill="#47cb87"/>
<path d="M158.6,339L163.4,340.2L168.5,341.3L173.9,342.1L179.2,342.6L183.8,342.7L188,342.6L193,342.2L197.7,341.6L205.7,341.6L205.7,285.2L150.6,285.2L150.6,339Z" fill="#4fcc80"/>
<path d="M159.2,337.7L164,338.9L168.9,339.8L173.7,340.5L178.4,341L183.1,341.2L187.3,341.1L192.4,340.7L197.1,340.1L205.1,340.1L205.1,285.2L151.2,285.2L151.2,337.7Z" fill="#57cc7a"/>
<path d="M159.8,336.3L164.7,337.5L170,338.5L174.6,339.1L179.2,339.5L183.8,339.6L188,339.5L196.5,338.7L204.5,338.7L204.5,285.2L151.8,285.2L151.8,336.3Z" fill="#60cd72"/>
<path d="M160.4,335L169.4,336.9L173.8,337.5L178.4,337.9L183.1,338.1L187.3,338L191.2,337.7L195.9,337.2L203.9,337.2L203.9,285.2L152.4,285.2L152.4,335Z" fill="#69cd6b"/>
<path d="M161,333.7L165.8,334.7L170.1,335.5L178,336.4L182.4,336.5L186.6,336.5L190.5,336.3L195.3,335.7L203.3,335.7L203.3,285.2L153,285.2L153,333.7Z" fill="#72cd64"/>
<path d="M161.6,332.3L166.7,333.4L170.9,334.1L178.5,334.9L186,335L189.9,334.8L194.8,334.3L202.8,334.3L202.8,285.2L153.6,285.2L153.6,332.3Z" fill="#7ccc5c"/>
<path d="M162.2,331L170.5,332.6L178.1,333.3L182.5,333.5L186.5,333.4L194.2,332.8L202.2,332.8L202.2,285.2L154.2,285.2L154.2,331Z" fill="#85cb55"/>
<path d="M162.7,329.6L170.8,331.1L178.7,331.9L186.1,332L193.6,331.4L201.6,331.4L201.6,285.2L154.7,285.2L154.7,329.6Z" fill="#8fcb4e"/>
<path d="M163.3,328.3L170.8,329.6L178.1,330.4L185.5,330.5L193.1,329.9L201.1,329.9L201.1,285.2L155.3,285.2L155.3,328.3Z" fill="#98c947"/>
<path d="M163.9,327L172,328.3L178.9,328.9L186.2,328.9L192.5,328.5L200.5,328.5L200.5,285.2L155.9,285.2L155.9,327Z" fill="#a2c840"/>
<path d="M164.4,325.6L171.3,326.8L178.3,327.4L185.6,327.5L192,327L200,327L200,285.2L156.4,285.2L156.4,325.6Z" fill="#abc739"/>
<path d="M165,324.3L172.1,325.4L177.6,325.9L185.1,326L191.5,325.6L199.5,325.6L199.5,285.2L157,285.2L157,324.3Z" fill="#b3c534"/>
<path d="M165.5,323L171.7,323.9L178.6,324.5L184.5,324.5L191,324.1L199,324.1L199,285.2L157.5,285.2L157.5,323Z" fill="#bcc42f"/>
<path d="M166.1,321.6L171.9,322.5L178,323L184,323.1L190.4,322.7L198.4,322.7L198.4,285.2L158.1,285.2L158.1,321.6Z" fill="#c4c22a"/>
<path d="M166.6,320.3L172.5,321.1L179,321.6L184.8,321.6L189.9,321.3L197.9,321.3L197.9,285.2L158.6,285.2L158.6,320.3Z" fill="#ccc028"/>
<path d="M167.2,319L173.2,319.8L178.4,320.1L184.3,320.2L189.5,319.9L197.5,319.9L197.5,285.2L159.2,285.2L159.2,319Z" fill="#d4bf28"/>
<path d="M167.7,317.6L172.8,318.3L177.8,318.7L183.7,318.7L189,318.4L197,318.4L197,285.2L159.7,285.2L159.7,317.6Z" fill="#dbbd29"/>
<path d="M168.3,316.3L173.9,317L178.9,317.3L183.2,317.3L188.5,317L196.5,317L196.5,285.2L160.3,285.2L160.3,316.3Z" fill="#e2bc2b"/>
<path d="M168.8,315L173.3,315.5L178.3,315.8L182.7,315.9L188,315.6L196,315.6L196,285.2L160.8,285.2L160.8,315Z" fill="#e8bb2f"/>
<path d="M169.4,313.6L174.1,314.2L177.8,314.4L182.2,314.5L187.6,314.2L195.6,314.2L195.6,285.2L161.4,285.2L161.4,313.6Z" fill="#eeba34"/>
<path d="M169.9,312.3L174,312.7L178.8,313L183.2,313L187.1,312.8L195.1,312.8L195.1,285.2L161.9,285.2L161.9,312.3Z" fill="#f4ba39"/>
<path d="M170.4,311L178.3,311.6L182.7,311.6L186.7,311.4L194.7,311.4L194.7,285.2L162.4,285.2L162.4,311Z" fill="#f9bb3d"/>
<path d="M171,309.6L177.9,310.2L182.2,310.2L186.2,310L194.2,310L194.2,285.2L163,285.2L163,309.6Z" fill="#fdbd3d"/>
<path d="M171.5,308.3L178.9,308.8L185.8,308.6L193.8,308.6L193.8,285.2L163.5,285.2L163.5,308.3Z" fill="#fec03a"/>
<path d="M172.1,307L178.4,307.4L185.4,307.2L193.4,307.2L193.4,285.2L164.1,285.2L164.1,307Z" fill="#fec437"/>
<path d="M172.6,305.7L179.5,306L185,305.9L193,305.9L193,285.2L164.6,285.2L164.6,305.7Z" fill="#fec835"/>
<path d="M173.2,304.3L179,304.6L184.6,304.5L192.6,304.5L192.6,285.2L165.2,285.2L165.2,304.3Z" fill="#fdcc32"/>
<path d="M173.7,303L178.6,303.2L184.2,303.1L192.2,303.1L192.2,285.2L165.7,285.2L165.7,303Z" fill="#fcd030"/>
<path d="M174.3,301.7L179.6,301.8L183.8,301.7L191.8,301.7L191.8,285.2L166.3,285.2L166.3,301.7Z" fill="#fad42e"/>
<path d="M174.8,300.3L179.2,300.5L183.4,300.4L191.4,300.4L191.4,285.2L166.8,285.2L166.8,300.3Z" fill="#f8d92c"/>
<path d="M175.4,299L183,299L191,299L191,285.2L167.4,285.2L167.4,299Z" fill="#f7dd2a"/>
<path d="M176,297.6L182.6,297.7L190.6,297.7L190.6,285.2L168,285.2L168,297.6Z" fill="#f6e128"/>
<path d="M176.5,296.3L182.3,296.3L190.3,296.3L190.3,285.2L168.5,285.2L168.5,296.3Z" fill="#f5e526"/>
<path d="M177.1,295L181.9,294.9L189.9,294.9L189.9,285.2L169.1,285.2L169.1,295Z" fill="#f5e924"/>
<path d="M177.7,293.6L181.6,293.6L189.6,293.6L189.6,285.2L169.7,285.2L169.7,293.6Z" fill="#f5ed21"/>
<path d="M178.3,292.3L181.2,292.2L189.2,292.2L189.2,285.2L170.3,285.2L170.3,292.3Z" fill="#f6f11e"/>
<path d="M178.9,290.9L180.9,290.9L188.9,290.9L188.9,285.2L170.9,285.2L170.9,290.9Z" fill="#f7f51b"/>
<path d="M179.5,289.6L180.5,289.5L188.5,289.5L188.5,285.2L171.5,285.2L171.5,289.6Z" fill="#f8f917"/>
</g>
<text transform="translate(38.8,439.7) scale(1.5,1)" text-anchor="end" font-family='"Liberation Sans","DejaVu Sans",sans-serif' font-size="7.8" fill="#3c3c3c" stroke="#3c3c3c" stroke-width="0.3">0</text>
<text transform="translate(38.8,417.5) scale(1.5,1)" text-anchor="end" font-family='"Liberation Sans","DejaVu Sans",sans-serif' font-size="7.8" fill="#3c3c3c" stroke="#3c3c3c" stroke-width="0.3">10</text>
<text transform="translate(38.8,395.3) scale(1.5,1)" text-anchor="end" font-family='"Liberation Sans","DejaVu Sans",sans-serif' font-size="7.8" fill="#3c3c3c" stroke="#3c3c3c" stroke-width="0.3">20</text>
<text transform="translate(38.8,373.2) scale(1.5,1)" text-anchor="end" font-family='"Liberation Sans","DejaVu Sans",sans-serif' font-size="7.8" fill="#3c3c3c" stroke="#3c3c3c" stroke-width="0.3">30</text>
<text transform="translate(38.8,351) scale(1.5,1)" text-anchor="end" font-family='"Liberation Sans","DejaVu Sans",sans-serif' font-size="7.8" fill="#3c3c3c" stroke="#3c3c3c" stroke-width="0.3">40</text>
<text transform="translate(38.8,328.8) scale(1.5,1)" text-anchor="end" font-family='"Liberation Sans","DejaVu Sans",sans-serif' font-size="7.8" fill="#3c3c3c" stroke="#3c3c3c" stroke-width="0.3">50</text>
<text transform="translate(38.8,306.6) scale(1.5,1)" text-anchor="end" font-family='"Liberation Sans","DejaVu Sans",sans-serif' font-size="7.8" fill="#3c3c3c" stroke="#3c3c3c" stroke-width="0.3">60</text>
<text transform="translate(32.3,449.3) scale(1.5,1)" text-anchor="middle" font-family='"Liberation Sans","DejaVu Sans",sans-serif' font-size="7.8" fill="#3c3c3c" stroke="#3c3c3c" stroke-width="0.3">10</text>
<text transform="translate(60.3,464.5) scale(1.5,1)" text-anchor="middle" font-family='"Liberation Sans","DejaVu Sans",sans-serif' font-size="7.8" fill="#3c3c3c" stroke="#3c3c3c" stroke-width="0.3">0</text>
<text transform="translate(88.6,479.5) scale(1.5,1)" text-anchor="middle" font-family='"Liberation Sans","DejaVu Sans",sans-serif' font-size="7.8" fill="#3c3c3c" stroke="#3c3c3c" stroke-width="0.3">20</text>
<text transform="translate(119.3,494.5) scale(1.5,1)" text-anchor="middle" font-family='"Liberation Sans","DejaVu Sans",sans-serif' font-size="7.8" fill="#3c3c3c" stroke="#3c3c3c" stroke-width="0.3">10</text>
<text transform="translate(147.5,509.6) scale(1.5,1)" text-anchor="middle" font-family='"Liberation Sans","DejaVu Sans",sans-serif' font-size="7.8" fill="#3c3c3c" stroke="#3c3c3c" stroke-width="0.3">0</text>
<text transform="translate(173.8,510.7) scale(1.5,1)" text-anchor="middle" font-family='"Liberation Sans","DejaVu Sans",sans-serif' font-size="7.8" fill="#3c3c3c" stroke="#3c3c3c" stroke-width="0.3">0</text>
<text transform="translate(254,487.5) scale(1.5,1)" text-anchor="middle" font-family='"Liberation Sans","DejaVu Sans",sans-serif' font-size="7.8" fill="#3c3c3c" stroke="#3c3c3c" stroke-width="0.3">10</text>
<text transform="translate(329.8,464.6) scale(1.5,1)" text-anchor="middle" font-family='"Liberation Sans","DejaVu Sans",sans-serif' font-size="7.8" fill="#3c3c3c" stroke="#3c3c3c" stroke-width="0.3">20</text>
<text transform="translate(77.2,493) rotate(27.2)" text-anchor="middle" textLength="100" lengthAdjust="spacingAndGlyphs" font-family='"Liberation Serif","DejaVu Serif",serif' font-size="13.5" fill="#3c3c3c">Drought intensity</text>
<text transform="translate(264,502.5) rotate(-16.25)" text-anchor="middle" textLength="101.5" lengthAdjust="spacingAndGlyphs" font-family='"Liberation Serif","DejaVu Serif",serif' font-size="13.5" fill="#3c3c3c">Drought duration</text>
<text transform="translate(13,379) rotate(-90)" text-anchor="middle" textLength="124.4" lengthAdjust="spacingAndGlyphs" font-family='"Liberation Serif","DejaVu Serif",serif' font-size="14.2" fill="#3c3c3c">Joint recurrence period</text>
<text transform="translate(9.5,269.9) scale(1.22,1)" font-family='"Liberation Serif","DejaVu Serif",serif' font-size="12" font-weight="bold" fill="#222">(b)</text></g>
<g><path d="M48.3,705.8 L48.3,572.2 M124.5,682.4 L124.5,548.8 M200.7,659.1 L200.7,525.5 M48.3,705.8 L200.7,659.1 M200.7,659.1 L316.5,721.3 M48.3,683.5 L200.7,636.8 M200.7,636.8 L316.5,699 M48.3,661.3 L200.7,614.6 M200.7,614.6 L316.5,676.8 M48.3,639 L200.7,592.3 M200.7,592.3 L316.5,654.5 M48.3,616.7 L200.7,570 M200.7,570 L316.5,632.2 M48.3,594.4 L200.7,547.7 M200.7,547.7 L316.5,609.9 M48.3,572.2 L200.7,525.5 M200.7,525.5 L316.5,587.7 M316.5,721.3 L316.5,587.7 M289.4,706.8 L289.4,573.1 M262.4,692.2 L262.4,558.6 M235.3,677.7 L235.3,544.1 M208.3,663.2 L208.3,529.5 M200.7,659.1 L200.7,525.5 M164.1,768 L48.3,705.8 M240.3,744.6 L124.5,682.4 M164.1,768 L316.5,721.3 M137,753.5 L289.4,706.8 M110,738.9 L262.4,692.2 M82.9,724.4 L235.3,677.7 M55.9,709.9 L208.3,663.2" stroke="#ececec" stroke-width="0.9" fill="none"/>
<path d="M48.3,705.8 L48.3,572.2 M48.3,705.8 L44.9,706.7 M48.3,683.5 L44.9,684.4 M48.3,661.3 L44.9,662.2 M48.3,639 L44.9,639.9 M48.3,616.7 L44.9,617.6 M48.3,594.4 L44.9,595.3 M48.3,572.2 L44.9,573.1" stroke="#6a6a6a" stroke-width="1" fill="none"/>
<path d="M48.3,705.8 L164.1,768 M164.1,768 L316.5,721.3 M164.1,768 L161,768.9 M137,753.5 L134,754.4 M110,738.9 L106.9,739.9 M82.9,724.4 L79.9,725.3 M55.9,709.9 L52.8,710.8 M164.1,768 L166.9,769.5 M240.3,744.6 L243.1,746.2 M316.5,721.3 L319.3,722.8" stroke="#bcbcbc" stroke-width="0.9" fill="none"/>
<mask id="silc" maskUnits="userSpaceOnUse" x="0" y="0" width="685" height="800"><path d="M164.1,766.2L297.1,725.5 287.2,717.6 283.1,714.4 269.1,704.2 264.1,700.4 259.2,696.5 254.2,692.2 250.9,689 248.5,686.5 245.2,683 242.7,680.1 239.4,676 236.9,672.8 234.4,669.3 232,665.7 228.7,660.6 224.6,653.9 221.3,648.1 217.1,640.6 213,632.9 208.9,624.8 205.6,618 202.3,610.7 199.8,605 197.4,598.9 194.9,592.5 192.4,585.7 189.9,578.4 187.5,570.8 181.7,552 177.9,559 174.1,566.6 170.3,574.6 160.8,595.6 157,603.8 152.3,613.5 148.5,620.7 145.6,625.8 143.7,629 140.9,633.6 138,637.9 136.1,640.7 133.3,644.6 130.4,648.2 127.6,651.6 123.8,655.8 120,659.7 116.2,663.4 111.4,667.6 106.7,671.6 101,676.1 95.3,680.3 89.6,684.3 83.9,688 79.1,690.8 74.4,693.4 69.6,695.9 64.9,698.1 59.2,700.5 54.4,702.3 48.7,704.3 164.1,766.2Z" fill="#fff"/></mask>
<g mask="url(#silc)">
<rect x="45.7" y="549" width="254.3" height="220.2" fill="#3e28ac"/>
<path d="M64.3,698.3L113.4,724.3L128.7,732.1L143.6,739.4L156.2,745.2L164.8,748.8L171.4,751L173.9,751.6L177.4,752.2L180.7,752.3L183.2,752.3L188.4,751.7L195.1,750.4L203.3,748.4L215.1,745.2L231.5,740.4L292.5,721.9L300.5,721.9L300.5,549L56.3,549L56.3,698.3Z" fill="#402ab4"/>
<path d="M71.4,695L114.9,717.8L127.9,724.2L139.6,729.7L153.9,735.7L166.2,740.3L174.1,742.8L178.1,743.6L181.2,744.1L187,744.4L192.8,744L200.9,742.8L209.4,741L222.5,737.6L239.2,732.9L288.1,718.4L296.1,718.4L296.1,549L63.4,549L63.4,695Z" fill="#412dbc"/>
<path d="M76.7,692.2L101,704.9L117.2,713.2L129.5,719.1L140.6,724.1L152.5,728.7L164.6,732.7L173.2,734.9L178,735.8L181.9,736.3L186,736.6L190.1,736.6L196.9,736.3L205.3,735.2L214.1,733.5L226.6,730.6L242.6,726.4L261.2,721.1L283.3,714.6L291.3,714.6L291.3,549L68.7,549L68.7,692.2Z" fill="#4230c3"/>
<path d="M81,689.7L103,701.1L118.4,708.8L130,714.3L139.3,718.4L149.4,722.3L159.4,725.4L169.6,727.9L176.1,728.8L184.5,729.3L193.3,729.2L203.5,728.2L213.9,726.6L226.9,724L241.3,720.5L258.2,716L277.6,710.4L285.6,710.4L285.6,549L73,549L73,689.7Z" fill="#4332ca"/>
<path d="M84.8,687.4L117.3,703.8L128,708.9L137.3,713L146.3,716.5L154,719L162.6,721.3L169.9,722.7L178.4,723.2L188.5,723.1L198.8,722.2L210.6,720.5L223.9,718L238.6,714.7L253.8,710.8L271.4,705.9L279.4,705.9L279.4,549L76.8,549L76.8,687.4Z" fill="#4435d1"/>
<path d="M88.3,685.2L105.4,693.8L119.3,700.7L130.1,705.7L138.6,709.4L146.8,712.4L154.6,714.9L162.2,716.7L169.4,718L177.5,718.3L187.1,717.9L197.2,716.9L208.9,715.2L222.1,712.7L235.8,709.6L250,706L265.7,701.6L273.7,701.6L273.7,549L80.3,549L80.3,685.2Z" fill="#4538d8"/>
<path d="M91.5,683L107.8,691.2L121,697.6L131,702.2L139.6,705.8L147.9,708.8L154.7,710.9L162.3,712.7L169.7,714L177.6,714L187,713.5L196.9,712.4L208.4,710.6L220.5,708.2L233,705.4L246.2,702L260.9,697.9L268.9,697.9L268.9,549L83.5,549L83.5,683Z" fill="#463bdd"/>
<path d="M94.4,681L109.1,688.3L122.4,694.6L131.5,698.8L140.2,702.4L148.6,705.4L155.5,707.4L163.2,709.2L169.6,710.2L177.1,710.2L186.5,709.6L196.2,708.5L206.6,706.8L217.6,704.7L229.1,702.1L242.3,698.8L257.1,694.7L265.1,694.7L265.1,549L86.4,549L86.4,681Z" fill="#473fe2"/>
<path d="M97.2,678.9L111.1,685.8L123.6,691.7L132.9,695.8L141.6,699.4L149,702L155.9,704L162.4,705.5L169.8,706.8L177.3,706.8L185.2,706.2L195.1,705.1L205.4,703.4L216.4,701.3L227.9,698.7L240.1,695.6L253.8,691.8L261.8,691.8L261.8,549L89.2,549L89.2,678.9Z" fill="#4743e7"/>
<path d="M99.9,677L113,683.4L125.6,689.2L134.9,693.3L142.8,696.5L150.3,699.1L157.3,701.1L163.9,702.5L170.5,703.6L177.9,703.5L185.7,702.9L194.3,701.9L204.7,700.3L215.6,698.1L226.1,695.8L237.2,692.9L251,689.1L259,689.1L259,549L91.9,549L91.9,677Z" fill="#4746ea"/>
<path d="M102.4,675L114.7,681L126.5,686.4L135.9,690.5L143.8,693.6L151.3,696.2L158,698.1L165,699.6L171.1,700.5L177.4,700.5L185.3,699.9L193.9,698.9L204.3,697.3L214.1,695.4L224.6,693L235.8,690.2L248.6,686.7L256.6,686.7L256.6,549L94.4,549L94.4,675Z" fill="#484aee"/>
<path d="M104.8,673.1L116.3,678.6L128.2,684L136.7,687.7L144.6,690.8L152.2,693.4L159.3,695.4L165.9,696.8L172.1,697.7L178.6,697.6L186.4,697L194.9,695.9L204.1,694.5L212.9,692.8L223.4,690.4L233.5,687.8L246.4,684.3L254.4,684.3L254.4,549L96.8,549L96.8,673.1Z" fill="#484ef1"/>
<path d="M107.1,671.3L118.7,676.7L129.7,681.7L138.3,685.3L146.3,688.4L153,690.7L159.9,692.6L166.6,694.1L172.7,695L180,694.8L187.8,694.1L196.2,693L204.2,691.7L212.9,690L222.4,687.9L232.5,685.3L244.4,682.1L252.4,682.1L252.4,549L99.1,549L99.1,671.3Z" fill="#4852f4"/>
<path d="M109.3,669.4L120.1,674.5L130.2,679L138.8,682.6L146.8,685.7L153.3,687.9L160.4,689.9L167,691.4L173,692.3L178.9,692.2L186.8,691.6L195.3,690.6L203.3,689.3L212.1,687.6L221.5,685.5L231.7,682.9L242.5,679.9L250.5,679.9L250.5,549L101.3,549L101.3,669.4Z" fill="#4755f6"/>
<path d="M111.5,667.6L122.2,672.6L132.5,677.2L141.1,680.8L148.3,683.4L154.8,685.6L161.9,687.6L167.2,688.7L173.4,689.7L179.3,689.6L187.2,689.1L194.5,688.2L202.6,686.9L211.3,685.2L219.8,683.4L229.9,680.8L240.8,677.8L248.8,677.8L248.8,549L103.5,549L103.5,667.6Z" fill="#4759f8"/>
<path d="M113.5,665.8L124.3,670.8L133.7,674.9L142.4,678.5L149.5,681.2L156.1,683.4L162.1,685L168.7,686.4L174,687.2L180,687.2L187.7,686.6L195,685.7L203.1,684.4L210.7,683L219.2,681.1L228.3,678.8L239.2,675.8L247.2,675.8L247.2,549L105.5,549L105.5,665.8Z" fill="#475dfa"/>
<path d="M115.4,664.1L125.4,668.7L134.8,672.7L143.5,676.3L150.7,679L157.3,681.1L163.3,682.8L170,684.2L174.6,684.8L180.4,684.7L187.1,684.3L194.5,683.5L202.5,682.2L210.2,680.7L218.6,678.8L237.7,673.8L245.7,673.8L245.7,549L107.4,549L107.4,664.1Z" fill="#4660fc"/>
<path d="M117.3,662.3L127.3,666.9L135.7,670.6L143.5,673.8L150.7,676.4L157.2,678.6L163.2,680.3L168.4,681.4L174.3,682.4L179.8,682.4L186.5,682L194,681.2L201,680.2L208.7,678.7L217.2,676.9L226.4,674.6L236.3,671.9L244.3,671.9L244.3,549L109.3,549L109.3,662.3Z" fill="#4464fd"/>
<path d="M119.1,660.6L127.2,664.4L136.6,668.5L144.5,671.6L151.6,674.3L158.2,676.4L164.2,678.1L169.4,679.3L174.6,680.1L180.1,680.1L186.1,679.8L193.6,679.1L200.6,678L208.4,676.6L215.8,675L225,672.7L234.9,670L242.9,670L242.9,549L111.1,549L111.1,660.6Z" fill="#4368fe"/>
<path d="M120.8,658.9L137.5,666.3L145.3,669.5L152.5,672.2L157.9,674L163.8,675.6L169.4,676.9L174.8,677.8L180.2,677.9L187,677.6L193.2,676.9L200.3,675.9L208.1,674.5L215.5,672.8L223.7,670.8L233.6,668.2L241.6,668.2L241.6,549L112.8,549L112.8,658.9Z" fill="#406cfe"/>
<path d="M122.4,657.3L130.6,661L139.1,664.7L146,667.4L153.2,670.1L158.7,671.9L164.6,673.5L169.8,674.7L175.1,675.6L180.2,675.7L186.7,675.4L193,674.8L200,673.8L207.8,672.4L215.2,670.7L232.4,666.3L240.4,666.3L240.4,549L114.4,549L114.4,657.3Z" fill="#3e70ff"/>
<path d="M123.9,655.7L139.8,662.6L147.7,665.8L153.9,668L159.4,669.8L165.3,671.5L170.6,672.6L175,673.4L179.4,673.5L186.4,673.3L192.7,672.7L198.7,671.9L205.4,670.7L212.9,669.2L221.2,667.2L231.2,664.5L239.2,664.5L239.2,549L115.9,549L115.9,655.7Z" fill="#3a74fe"/>
<path d="M125.4,654L140.4,660.6L147.3,663.3L154.5,666L160,667.8L166,669.4L171.2,670.6L175.8,671.3L182,671.4L187.5,671.1L193.8,670.5L199.7,669.7L206.4,668.5L213.8,666.9L230,662.7L238,662.7L238,549L117.4,549L117.4,654Z" fill="#3678fd"/>
<path d="M126.9,652.4L135.2,656.1L142.8,659.4L149.8,662.1L156.1,664.3L161.7,666.1L167.8,667.7L173.3,668.8L176.5,669.2L181.7,669.3L187.3,669.1L193.6,668.5L199.6,667.7L206.3,666.4L212.7,665.1L228.9,661L236.9,661L236.9,549L118.9,549L118.9,652.4Z" fill="#327cfc"/>
<path d="M128.2,650.9L143.3,657.4L150.3,660.1L156.6,662.3L162.2,664.1L167.1,665.4L172.4,666.5L176.8,667.1L181.5,667.2L187.2,667L192.3,666.6L198.3,665.8L205.1,664.7L211.5,663.3L227.8,659.2L235.8,659.2L235.8,549L120.2,549L120.2,650.9Z" fill="#3080fa"/>
<path d="M129.5,649.3L143.7,655.4L150.7,658.1L157,660.3L162.6,662.1L167.5,663.4L172.5,664.4L176.5,665L181.3,665.2L187.1,665L192.2,664.6L198.3,663.8L205,662.7L211.5,661.3L226.7,657.5L234.7,657.5L234.7,549L121.5,549L121.5,649.3Z" fill="#2e84f9"/>
<path d="M130.8,647.7L145,653.8L157.4,658.4L163,660.1L167.9,661.4L172.1,662.3L176.7,662.9L181.2,663.1L185.6,663.1L190.9,662.7L197.1,662L203.9,660.9L210.4,659.6L225.7,655.8L233.7,655.8L233.7,549L122.8,549L122.8,647.7Z" fill="#2e87f7"/>
<path d="M132,646.2L145.3,651.9L151.3,654.2L157.7,656.4L163.3,658.2L168.3,659.4L172.4,660.2L177.2,660.9L182.6,661.1L186.9,661L192.2,660.6L197.1,660.1L202.8,659.1L209.3,657.8L224.7,654.1L232.7,654.1L232.7,549L124,549L124,646.2Z" fill="#2d8bf4"/>
<path d="M133.2,644.7L146.5,650.3L153.6,653L159,654.8L164.8,656.5L169.2,657.6L173.7,658.4L177.7,658.8L182.5,659.1L186.9,659.1L191.7,658.7L197.1,658.1L202.8,657.2L209.4,655.9L223.7,652.4L231.7,652.4L231.7,549L125.2,549L125.2,644.7Z" fill="#2c8ef1"/>
<path d="M134.3,643.2L147.7,648.8L153.8,651.1L159.3,652.9L163.9,654.3L169.1,655.5L173.5,656.3L178.2,656.9L182.5,657.1L186.9,657.1L192.1,656.8L197.1,656.2L202.9,655.3L208.3,654.2L222.7,650.7L230.7,650.7L230.7,549L126.3,549L126.3,643.2Z" fill="#2b92ef"/>
<path d="M135.4,641.7L142,644.5L148.8,647.3L155.1,649.6L160.3,651.3L165.4,652.7L169.3,653.5L173.6,654.3L178.6,654.9L182.4,655.1L186.9,655.1L192.3,654.8L197.2,654.2L202.9,653.3L208.4,652.2L221.8,649L229.8,649L229.8,549L127.4,549L127.4,641.7Z" fill="#2895ec"/>
<path d="M136.4,640.2L149,645.4L155.2,647.7L160.3,649.3L165.6,650.7L169.5,651.6L173.9,652.4L178.9,652.9L182.7,653.1L187.1,653.2L192.3,652.9L197.3,652.3L203,651.4L208.5,650.3L220.8,647.3L228.8,647.3L228.8,549L128.4,549L128.4,640.2Z" fill="#2798ea"/>
<path d="M137.5,638.7L144.1,641.6L150.1,643.9L160.4,647.4L164.5,648.5L169.8,649.7L174.1,650.4L179,651L183,651.2L187.4,651.2L192.4,651L196.6,650.5L202,649.7L207.5,648.6L219.9,645.7L227.9,645.7L227.9,549L129.5,549L129.5,638.7Z" fill="#259be8"/>
<path d="M138.5,637.3L150.1,642L155.4,643.9L160.6,645.5L165.9,646.9L169.9,647.8L174.3,648.5L179.1,649.1L183.2,649.3L187.7,649.3L192.5,649L196.8,648.6L206.5,647L219,644L227,644L227,549L130.5,549L130.5,637.3Z" fill="#249ee6"/>
<path d="M139.4,635.8L145.2,638.2L151.2,640.5L160.8,643.7L166,645L170,645.9L174.4,646.6L179.2,647.2L183.3,647.4L187.8,647.4L196.4,646.8L201.1,646.1L206.6,645.1L218.1,642.4L226.1,642.4L226.1,549L131.4,549L131.4,635.8Z" fill="#22a1e4"/>
<path d="M140.4,634.4L151.2,638.7L161.1,641.9L170.1,644L174.5,644.7L179.4,645.3L183.4,645.5L188,645.5L196.5,644.9L205.7,643.4L217.2,640.8L225.2,640.8L225.2,549L132.4,549L132.4,634.4Z" fill="#20a4e3"/>
<path d="M141.3,632.9L152.2,637.2L161.6,640.2L170.1,642.2L174.5,642.9L179.6,643.4L183.5,643.6L188,643.6L196.6,643L205.8,641.5L216.3,639.1L224.3,639.1L224.3,549L133.3,549L133.3,632.9Z" fill="#1ea7e1"/>
<path d="M142.2,631.5L152.2,635.4L157.6,637.2L162.3,638.5L167.4,639.8L171.5,640.6L179.6,641.6L187.6,641.8L195.6,641.2L204.9,639.8L215.4,637.5L223.4,637.5L223.4,549L134.2,549L134.2,631.5Z" fill="#1baade"/>
<path d="M143.1,630L153.2,633.9L162.2,636.7L167.3,637.9L171.4,638.7L179.5,639.7L183.4,639.9L187.9,639.9L195.8,639.4L205,637.9L214.6,635.9L222.6,635.9L222.6,549L135.1,549L135.1,630Z" fill="#19addc"/>
<path d="M144,628.6L153.1,632.1L162.1,634.9L170.8,636.8L178.7,637.9L186.7,638.1L194.7,637.7L204.1,636.3L213.7,634.2L221.7,634.2L221.7,549L136,549L136,628.6Z" fill="#14b0d8"/>
<path d="M144.8,627.2L154,630.6L163.2,633.4L171.2,635.1L179,636.1L187,636.3L195,635.8L203.2,634.6L212.9,632.6L220.9,632.6L220.9,549L136.8,549L136.8,627.2Z" fill="#0fb2d5"/>
<path d="M145.6,625.8L154.9,629.2L163,631.6L171,633.3L179,634.3L185.8,634.6L194,634.1L202.3,633L212,631L220,631L220,549L137.6,549L137.6,625.8Z" fill="#09b4d1"/>
<path d="M146.4,624.4L154.7,627.4L162.8,629.8L170.8,631.5L178.8,632.5L186.2,632.8L194.3,632.3L202.6,631.2L211.2,629.4L219.2,629.4L219.2,549L138.4,549L138.4,624.4Z" fill="#04b6cd"/>
<path d="M147.2,623L155.6,626L163.8,628.3L170.8,629.8L178.6,630.8L186.5,631L193.3,630.6L201.7,629.5L210.4,627.8L218.4,627.8L218.4,549L139.2,549L139.2,623Z" fill="#01b8c9"/>
<path d="M148,621.6L156.4,624.5L164.3,626.7L171.7,628.2L179.1,629.1L186.4,629.3L193.6,628.9L200.8,627.9L209.6,626.2L217.6,626.2L217.6,549L140,549L140,621.6Z" fill="#02bac4"/>
<path d="M148.8,620.2L157.3,623.1L164.5,625.1L172.1,626.6L179.6,627.4L185.9,627.5L192.7,627.2L200,626.3L208.8,624.6L216.8,624.6L216.8,549L140.8,549L140.8,620.2Z" fill="#07bcc0"/>
<path d="M149.5,618.8L157,621.4L164.2,623.3L171,624.7L178.5,625.6L184.9,625.8L191.8,625.6L199.2,624.7L208,623.1L216,623.1L216,549L141.5,549L141.5,618.8Z" fill="#0dbdbb"/>
<path d="M150.3,617.4L157.8,619.9L165.1,621.9L172.1,623.2L178.8,623.9L185.3,624.1L192.2,623.8L199.5,622.9L207.3,621.5L215.3,621.5L215.3,549L142.3,549L142.3,617.4Z" fill="#16bfb7"/>
<path d="M151,616L157.5,618.2L164.7,620.1L171.7,621.5L178.3,622.2L184.4,622.4L191.3,622.2L198.7,621.3L206.5,619.9L214.5,619.9L214.5,549L143,549L143,616Z" fill="#1ec0b2"/>
<path d="M151.7,614.6L158.3,616.8L165.6,618.7L172.8,620L178.6,620.6L184.9,620.8L191.8,620.4L197.9,619.7L205.8,618.4L213.8,618.4L213.8,549L143.7,549L143.7,614.6Z" fill="#25c2ad"/>
<path d="M152.4,613.2L159.3,615.5L166.5,617.3L172.3,618.3L179.1,619L185.4,619.1L190.9,618.8L197.1,618.2L205.1,616.8L213.1,616.8L213.1,549L144.4,549L144.4,613.2Z" fill="#2ac3a9"/>
<path d="M153.1,611.9L159.8,614L166.1,615.5L171.8,616.6L178.2,617.3L184.5,617.4L190.1,617.2L196.4,616.6L204.3,615.3L212.3,615.3L212.3,549L145.1,549L145.1,611.9Z" fill="#2ec5a4"/>
<path d="M153.8,610.5L160.6,612.6L167,614.1L172.8,615.1L178.9,615.7L185.1,615.8L190.6,615.5L196.8,614.9L203.6,613.7L211.6,613.7L211.6,549L145.8,549L145.8,610.5Z" fill="#32c69e"/>
<path d="M154.4,609.1L160.3,610.9L166.5,612.4L172.3,613.4L177.9,614L184.3,614.2L189.8,614L196.1,613.3L203,612.2L211,612.2L211,549L146.4,549L146.4,609.1Z" fill="#36c799"/>
<path d="M155.1,607.8L160.8,609.5L166.9,610.9L173.3,611.9L178.5,612.4L184.9,612.5L190.3,612.3L196.6,611.6L202.3,610.7L210.3,610.7L210.3,549L147.1,549L147.1,607.8Z" fill="#3ac993"/>
<path d="M155.8,606.4L161.6,608.1L166.8,609.3L172.3,610.2L177.8,610.8L184.1,610.9L189.6,610.7L195.9,610.1L201.6,609.2L209.6,609.2L209.6,549L147.8,549L147.8,606.4Z" fill="#40ca8d"/>
<path d="M156.4,605L162.3,606.7L167.6,607.9L173.2,608.8L178.5,609.2L183.3,609.3L188.9,609.2L195.2,608.5L201,607.6L209,607.6L209,549L148.4,549L148.4,605Z" fill="#47cb87"/>
<path d="M157.1,603.7L163,605.3L168,606.4L173,607.2L178.2,607.6L183.9,607.8L189.5,607.5L194.5,607L200.3,606.1L208.3,606.1L208.3,549L149.1,549L149.1,603.7Z" fill="#4fcc80"/>
<path d="M157.7,602.3L162.5,603.6L167.8,604.8L173.2,605.6L178.5,606.1L183.2,606.2L188.7,606L193.8,605.5L199.7,604.6L207.7,604.6L207.7,549L149.7,549L149.7,602.3Z" fill="#57cc7a"/>
<path d="M158.3,601L163.2,602.3L168.6,603.4L173.2,604.1L178.6,604.5L183.9,604.6L188.1,604.4L193.2,604L199.1,603.1L207.1,603.1L207.1,549L150.3,549L150.3,601Z" fill="#60cd72"/>
<path d="M159,599.6L163.9,600.9L169.2,602L174.1,602.6L178.5,603L183.1,603L188.7,602.8L193.7,602.3L198.5,601.7L206.5,601.7L206.5,549L151,549L151,599.6Z" fill="#69cd6b"/>
<path d="M159.6,598.3L164.6,599.5L168.7,600.3L173.4,601L177.7,601.4L182.4,601.5L188,601.3L193.1,600.8L197.9,600.2L205.9,600.2L205.9,549L151.6,549L151.6,598.3Z" fill="#72cd64"/>
<path d="M160.2,596.9L164.7,598L169.4,598.9L174.3,599.6L178.6,599.9L183.2,599.9L187.4,599.8L192.5,599.3L197.3,598.7L205.3,598.7L205.3,549L152.2,549L152.2,596.9Z" fill="#7ccc5c"/>
<path d="M160.8,595.6L168.8,597.3L173.5,598L177.8,598.3L182.5,598.4L186.7,598.3L191.9,597.9L196.7,597.2L204.7,597.2L204.7,549L152.8,549L152.8,595.6Z" fill="#85cb55"/>
<path d="M161.4,594.2L165.3,595.1L169.6,595.9L174.3,596.5L178.7,596.8L183.3,596.9L187.4,596.7L196.1,595.8L204.1,595.8L204.1,549L153.4,549L153.4,594.2Z" fill="#8fcb4e"/>
<path d="M162.1,592.9L165.9,593.8L170.3,594.5L178,595.3L182.6,595.4L186.8,595.2L195.6,594.3L203.6,594.3L203.6,549L154.1,549L154.1,592.9Z" fill="#98c947"/>
<path d="M162.7,591.5L166.6,592.4L171,593.1L178.9,593.8L186.2,593.7L195,592.8L203,592.8L203,549L154.7,549L154.7,591.5Z" fill="#a2c840"/>
<path d="M163.3,590.2L167.3,591L171.1,591.6L178.2,592.3L185.6,592.2L194.5,591.4L202.5,591.4L202.5,549L155.3,549L155.3,590.2Z" fill="#abc739"/>
<path d="M163.9,588.8L171,590.1L178,590.8L182.2,590.8L186.4,590.7L193.9,589.9L201.9,589.9L201.9,549L155.9,549L155.9,588.8Z" fill="#b3c534"/>
<path d="M164.5,587.5L171.4,588.7L178.5,589.3L185.8,589.2L193.4,588.5L201.4,588.5L201.4,549L156.5,549L156.5,587.5Z" fill="#bcc42f"/>
<path d="M165.1,586.1L170.9,587.1L177.9,587.8L185.2,587.7L192.9,587.1L200.9,587.1L200.9,549L157.1,549L157.1,586.1Z" fill="#c4c22a"/>
<path d="M165.7,584.8L171.8,585.8L178.8,586.3L186,586.2L192.4,585.6L200.4,585.6L200.4,549L157.7,549L157.7,584.8Z" fill="#ccc028"/>
<path d="M166.3,583.4L172.3,584.4L178.2,584.8L184.5,584.8L191.9,584.2L199.9,584.2L199.9,549L158.3,549L158.3,583.4Z" fill="#d4bf28"/>
<path d="M166.9,582.1L173,583L179.1,583.4L185,583.3L191.4,582.8L199.4,582.8L199.4,549L158.9,549L158.9,582.1Z" fill="#dbbd29"/>
<path d="M167.5,580.7L173.4,581.6L178.5,581.9L184.4,581.9L190.9,581.3L198.9,581.3L198.9,549L159.5,549L159.5,580.7Z" fill="#e2bc2b"/>
<path d="M168.1,579.4L174.5,580.2L179.5,580.5L185.3,580.3L190.4,579.9L198.4,579.9L198.4,549L160.1,549L160.1,579.4Z" fill="#e8bb2f"/>
<path d="M168.8,578L173.9,578.7L178.9,579L184.8,578.9L190,578.5L198,578.5L198,549L160.8,549L160.8,578Z" fill="#eeba34"/>
<path d="M169.4,576.7L174.2,577.3L179.9,577.6L184.2,577.5L189.5,577.1L197.5,577.1L197.5,549L161.4,549L161.4,576.7Z" fill="#f4ba39"/>
<path d="M170,575.3L174.4,575.9L179.4,576.1L183.7,576L189,575.7L197,575.7L197,549L162,549L162,575.3Z" fill="#f9bb3d"/>
<path d="M170.6,574L173.9,574.4L178.8,574.6L183.2,574.6L188.6,574.3L196.6,574.3L196.6,549L162.6,549L162.6,574Z" fill="#fdbd3d"/>
<path d="M171.2,572.6L175,573L179.8,573.2L184.1,573.1L188.1,572.9L196.1,572.9L196.1,549L163.2,549L163.2,572.6Z" fill="#fec03a"/>
<path d="M171.9,571.3L179.3,571.8L183.7,571.7L187.7,571.5L195.7,571.5L195.7,549L163.9,549L163.9,571.3Z" fill="#fec437"/>
<path d="M172.5,569.9L176.1,570.2L180.2,570.4L187.2,570.1L195.2,570.1L195.2,549L164.5,549L164.5,569.9Z" fill="#fec835"/>
<path d="M173.2,568.6L179.8,568.9L186.8,568.7L194.8,568.7L194.8,549L165.2,549L165.2,568.6Z" fill="#fdcc32"/>
<path d="M173.8,567.2L179.6,567.5L186.3,567.3L194.3,567.3L194.3,549L165.8,549L165.8,567.2Z" fill="#fcd030"/>
<path d="M174.5,565.8L180.3,566.1L185.9,565.9L193.9,565.9L193.9,549L166.5,549L166.5,565.8Z" fill="#fad42e"/>
<path d="M175.1,564.5L179.8,564.7L185.5,564.5L193.5,564.5L193.5,549L167.1,549L167.1,564.5Z" fill="#f8d92c"/>
<path d="M175.8,563.1L180.8,563.2L185.1,563.1L193.1,563.1L193.1,549L167.8,549L167.8,563.1Z" fill="#f7dd2a"/>
<path d="M176.5,561.7L180.4,561.8L184.6,561.7L192.6,561.7L192.6,549L168.5,549L168.5,561.7Z" fill="#f6e128"/>
<path d="M177.2,560.3L184.2,560.3L192.2,560.3L192.2,549L169.2,549L169.2,560.3Z" fill="#f5e526"/>
<path d="M177.9,559L183.8,558.9L191.8,558.9L191.8,549L169.9,549L169.9,559Z" fill="#f5e924"/>
<path d="M178.6,557.6L183.4,557.5L191.4,557.5L191.4,549L170.6,549L170.6,557.6Z" fill="#f5ed21"/>
<path d="M179.4,556.2L183,556.2L191,556.2L191,549L171.4,549L171.4,556.2Z" fill="#f6f11e"/>
<path d="M180.1,554.8L182.5,554.8L190.5,554.8L190.5,549L172.1,549L172.1,554.8Z" fill="#f7f51b"/>
<path d="M180.9,553.4L182.1,553.4L190.1,553.4L190.1,549L172.9,549L172.9,553.4Z" fill="#f8f917"/>
</g>
<text transform="translate(39.6,707.1) scale(1.5,1)" text-anchor="end" font-family='"Liberation Sans","DejaVu Sans",sans-serif' font-size="7.8" fill="#3c3c3c" stroke="#3c3c3c" stroke-width="0.3">0</text>
<text transform="translate(39.6,684.8) scale(1.5,1)" text-anchor="end" font-family='"Liberation Sans","DejaVu Sans",sans-serif' font-size="7.8" fill="#3c3c3c" stroke="#3c3c3c" stroke-width="0.3">10</text>
<text transform="translate(39.6,662.6) scale(1.5,1)" text-anchor="end" font-family='"Liberation Sans","DejaVu Sans",sans-serif' font-size="7.8" fill="#3c3c3c" stroke="#3c3c3c" stroke-width="0.3">20</text>
<text transform="translate(39.6,640.3) scale(1.5,1)" text-anchor="end" font-family='"Liberation Sans","DejaVu Sans",sans-serif' font-size="7.8" fill="#3c3c3c" stroke="#3c3c3c" stroke-width="0.3">30</text>
<text transform="translate(39.6,618) scale(1.5,1)" text-anchor="end" font-family='"Liberation Sans","DejaVu Sans",sans-serif' font-size="7.8" fill="#3c3c3c" stroke="#3c3c3c" stroke-width="0.3">40</text>
<text transform="translate(39.6,595.7) scale(1.5,1)" text-anchor="end" font-family='"Liberation Sans","DejaVu Sans",sans-serif' font-size="7.8" fill="#3c3c3c" stroke="#3c3c3c" stroke-width="0.3">50</text>
<text transform="translate(39.6,573.5) scale(1.5,1)" text-anchor="end" font-family='"Liberation Sans","DejaVu Sans",sans-serif' font-size="7.8" fill="#3c3c3c" stroke="#3c3c3c" stroke-width="0.3">60</text>
<text transform="translate(39.9,722.3) scale(1.5,1)" text-anchor="middle" font-family='"Liberation Sans","DejaVu Sans",sans-serif' font-size="7.8" fill="#3c3c3c" stroke="#3c3c3c" stroke-width="0.3">10</text>
<text transform="translate(66.7,736) scale(1.5,1)" text-anchor="middle" font-family='"Liberation Sans","DejaVu Sans",sans-serif' font-size="7.8" fill="#3c3c3c" stroke="#3c3c3c" stroke-width="0.3">0</text>
<text transform="translate(94.9,750.8) scale(1.5,1)" text-anchor="middle" font-family='"Liberation Sans","DejaVu Sans",sans-serif' font-size="7.8" fill="#3c3c3c" stroke="#3c3c3c" stroke-width="0.3">20</text>
<text transform="translate(122.3,764.6) scale(1.5,1)" text-anchor="middle" font-family='"Liberation Sans","DejaVu Sans",sans-serif' font-size="7.8" fill="#3c3c3c" stroke="#3c3c3c" stroke-width="0.3">10</text>
<text transform="translate(148.7,779) scale(1.5,1)" text-anchor="middle" font-family='"Liberation Sans","DejaVu Sans",sans-serif' font-size="7.8" fill="#3c3c3c" stroke="#3c3c3c" stroke-width="0.3">0</text>
<text transform="translate(175,780.1) scale(1.5,1)" text-anchor="middle" font-family='"Liberation Sans","DejaVu Sans",sans-serif' font-size="7.8" fill="#3c3c3c" stroke="#3c3c3c" stroke-width="0.3">0</text>
<text transform="translate(254.9,757) scale(1.5,1)" text-anchor="middle" font-family='"Liberation Sans","DejaVu Sans",sans-serif' font-size="7.8" fill="#3c3c3c" stroke="#3c3c3c" stroke-width="0.3">10</text>
<text transform="translate(330.3,733.4) scale(1.5,1)" text-anchor="middle" font-family='"Liberation Sans","DejaVu Sans",sans-serif' font-size="7.8" fill="#3c3c3c" stroke="#3c3c3c" stroke-width="0.3">20</text>
<text transform="translate(77.5,765.5) rotate(27.2)" text-anchor="middle" textLength="100" lengthAdjust="spacingAndGlyphs" font-family='"Liberation Serif","DejaVu Serif",serif' font-size="13.5" fill="#3c3c3c">Drought intensity</text>
<text transform="translate(276,771.5) rotate(-16.25)" text-anchor="middle" textLength="101.5" lengthAdjust="spacingAndGlyphs" font-family='"Liberation Serif","DejaVu Serif",serif' font-size="13.5" fill="#3c3c3c">Drought duration</text>
<text transform="translate(13,650) rotate(-90)" text-anchor="middle" textLength="124.4" lengthAdjust="spacingAndGlyphs" font-family='"Liberation Serif","DejaVu Serif",serif' font-size="14.2" fill="#3c3c3c">Joint recurrence period</text>
<text transform="translate(9.5,539.2) scale(1.22,1)" font-family='"Liberation Serif","DejaVu Serif",serif' font-size="12" font-weight="bold" fill="#222">(c)</text></g>
<g><clipPath id="cpa"><rect x="409.7" y="6.3" width="267.8" height="225.4"/></clipPath>
<path d="M680.4,152.6L637.4,152.3 622.2,152.1 608.6,151.7 596.9,151.3 586.8,150.7 577.8,150 569.7,149.2 561.8,148.1 555,146.8 549.1,145.4 543.5,143.7 538.3,141.7 533.9,139.6 531.4,138.1 529.5,136.9 525.8,134.1 524.1,132.6 522.5,131 519.6,127.5 517,123.8 515.8,121.8 514.5,119.2 512.3,114.2 510.5,108.9 508.8,102.7 507.5,96.1 506.4,88.6 505.5,80.9 504.7,72.2 504.1,61.9 503.7,50.6 503.3,37.6 503.1,22.2 502.9,3.6" stroke="#4e42aa" stroke-width="1" fill="none" clip-path="url(#cpa)"/>
<path d="M679.9,116.6L657.4,115.3 647.7,114.5 639,113.7 631.3,112.8 623.7,111.8 617.2,110.7 610.8,109.5 604.6,108 599.4,106.6 594.4,104.9 589.7,103 585.1,100.8 581.4,98.8 577.4,96.2 574.2,93.7 570.6,90.5 567.9,87.5 565.3,84.3 562.6,80.3 560.5,76.7 558.3,72.2 556.3,67.5 554.5,62.5 553,57.3 551.5,51.1 550.1,44.8 549,38.2 547.9,30.6 547,22.9 546,13.3 545.2,3.5" stroke="#5654cf" stroke-width="1" fill="none" clip-path="url(#cpa)"/>
<path d="M680.4,77.4L669.9,75.6 659.7,73.5 655.3,72.4 650.9,71.2 646.7,69.9 642.6,68.5 638.6,67 635.5,65.7 631.8,63.9 629,62.4 625.5,60.4 622.9,58.6 620.4,56.8 618,54.9 615.7,52.9 613.6,50.8 611.5,48.5 609.1,45.6 607.3,43.2 605.6,40.7 604,38 602.1,34.6 600.8,31.8 599.2,28.1 597.7,24.4 596.4,20.5 595.2,16.5 594.1,12.4 592.2,4" stroke="#48a2e2" stroke-width="1" fill="none" clip-path="url(#cpa)"/>
<path d="M674.9,6.6 L677.3,9.3" stroke="#eeee78" stroke-width="1.8" fill="none"/>
<g transform="translate(503.3,37.6) scale(1.22,1) rotate(89)"><rect x="-3.4" y="-4.2" width="6.9" height="8.4" fill="#fff"/><text y="3.3" text-anchor="middle" font-family='"Liberation Serif","DejaVu Serif",serif' font-size="10" fill="#1c1c1c">5</text></g>
<g transform="translate(508.5,101.4) scale(1.22,1) rotate(79.8)"><rect x="-3.4" y="-4.2" width="6.9" height="8.4" fill="#fff"/><text y="3.3" text-anchor="middle" font-family='"Liberation Serif","DejaVu Serif",serif' font-size="10" fill="#1c1c1c">5</text></g>
<g transform="translate(563.9,148.4) scale(1.22,1) rotate(10.3)"><rect x="-3.4" y="-4.2" width="6.9" height="8.4" fill="#fff"/><text y="3.3" text-anchor="middle" font-family='"Liberation Serif","DejaVu Serif",serif' font-size="10" fill="#1c1c1c">5</text></g>
<g transform="translate(666.6,152.5) scale(1.22,1) rotate(0.3)"><rect x="-3.4" y="-4.2" width="6.9" height="8.4" fill="#fff"/><text y="3.3" text-anchor="middle" font-family='"Liberation Serif","DejaVu Serif",serif' font-size="10" fill="#1c1c1c">5</text></g>
<g transform="translate(547.9,30.6) scale(1.22,1) rotate(83.9)"><rect x="-6" y="-4.2" width="12" height="8.4" fill="#fff"/><text y="3.3" text-anchor="middle" font-family='"Liberation Serif","DejaVu Serif",serif' font-size="10" fill="#1c1c1c">10</text></g>
<g transform="translate(571.1,90.9) scale(1.22,1) rotate(49.7)"><rect x="-6" y="-4.2" width="12" height="8.4" fill="#fff"/><text y="3.3" text-anchor="middle" font-family='"Liberation Serif","DejaVu Serif",serif' font-size="10" fill="#1c1c1c">10</text></g>
<g transform="translate(662.7,115.6) scale(1.22,1) rotate(4.4)"><rect x="-6" y="-4.2" width="12" height="8.4" fill="#fff"/><text y="3.3" text-anchor="middle" font-family='"Liberation Serif","DejaVu Serif",serif' font-size="10" fill="#1c1c1c">10</text></g>
<g transform="translate(599.2,28.1) scale(1.22,1) rotate(71.5)"><rect x="-6" y="-4.2" width="12" height="8.4" fill="#fff"/><text y="3.3" text-anchor="middle" font-family='"Liberation Serif","DejaVu Serif",serif' font-size="10" fill="#1c1c1c">20</text></g>
<g transform="translate(663.4,74.3) scale(1.22,1) rotate(14.7)"><rect x="-6" y="-4.2" width="12" height="8.4" fill="#fff"/><text y="3.3" text-anchor="middle" font-family='"Liberation Serif","DejaVu Serif",serif' font-size="10" fill="#1c1c1c">20</text></g>
<path d="M409.7,6.3H677.5V231.7H409.7Z M409.7,231.7v-2.6 M409.7,6.3v2.6 M437,231.7v-2.6 M437,6.3v2.6 M464.3,231.7v-2.6 M464.3,6.3v2.6 M491.6,231.7v-2.6 M491.6,6.3v2.6 M518.9,231.7v-2.6 M518.9,6.3v2.6 M546.2,231.7v-2.6 M546.2,6.3v2.6 M573.5,231.7v-2.6 M573.5,6.3v2.6 M600.8,231.7v-2.6 M600.8,6.3v2.6 M628.1,231.7v-2.6 M628.1,6.3v2.6 M655.4,231.7v-2.6 M655.4,6.3v2.6 M409.7,231.7h2.6 M677.5,231.7h-2.6 M409.7,201.6h2.6 M677.5,201.6h-2.6 M409.7,171.6h2.6 M677.5,171.6h-2.6 M409.7,141.5h2.6 M677.5,141.5h-2.6 M409.7,111.5h2.6 M677.5,111.5h-2.6 M409.7,81.4h2.6 M677.5,81.4h-2.6 M409.7,51.3h2.6 M677.5,51.3h-2.6 M409.7,21.3h2.6 M677.5,21.3h-2.6" stroke="#919191" stroke-width="1.2" fill="none"/>
<text transform="translate(409.7,242) scale(1.65,1)" text-anchor="middle" font-family='"Liberation Serif","DejaVu Serif",serif' font-size="7.5" fill="#5a5a5a">0</text>
<text transform="translate(437,242) scale(1.65,1)" text-anchor="middle" font-family='"Liberation Serif","DejaVu Serif",serif' font-size="7.5" fill="#5a5a5a">2</text>
<text transform="translate(464.3,242) scale(1.65,1)" text-anchor="middle" font-family='"Liberation Serif","DejaVu Serif",serif' font-size="7.5" fill="#5a5a5a">4</text>
<text transform="translate(491.6,242) scale(1.65,1)" text-anchor="middle" font-family='"Liberation Serif","DejaVu Serif",serif' font-size="7.5" fill="#5a5a5a">6</text>
<text transform="translate(518.9,242) scale(1.65,1)" text-anchor="middle" font-family='"Liberation Serif","DejaVu Serif",serif' font-size="7.5" fill="#5a5a5a">8</text>
<text transform="translate(546.2,242) scale(1.65,1)" text-anchor="middle" font-family='"Liberation Serif","DejaVu Serif",serif' font-size="7.5" fill="#5a5a5a">10</text>
<text transform="translate(573.5,242) scale(1.65,1)" text-anchor="middle" font-family='"Liberation Serif","DejaVu Serif",serif' font-size="7.5" fill="#5a5a5a">12</text>
<text transform="translate(600.8,242) scale(1.65,1)" text-anchor="middle" font-family='"Liberation Serif","DejaVu Serif",serif' font-size="7.5" fill="#5a5a5a">14</text>
<text transform="translate(628.1,242) scale(1.65,1)" text-anchor="middle" font-family='"Liberation Serif","DejaVu Serif",serif' font-size="7.5" fill="#5a5a5a">16</text>
<text transform="translate(655.4,242) scale(1.65,1)" text-anchor="middle" font-family='"Liberation Serif","DejaVu Serif",serif' font-size="7.5" fill="#5a5a5a">18</text>
<text transform="translate(404.5,234.3) scale(1.65,1)" text-anchor="end" font-family='"Liberation Serif","DejaVu Serif",serif' font-size="7.5" fill="#5a5a5a">0</text>
<text transform="translate(404.5,204.2) scale(1.65,1)" text-anchor="end" font-family='"Liberation Serif","DejaVu Serif",serif' font-size="7.5" fill="#5a5a5a">3</text>
<text transform="translate(404.5,174.2) scale(1.65,1)" text-anchor="end" font-family='"Liberation Serif","DejaVu Serif",serif' font-size="7.5" fill="#5a5a5a">6</text>
<text transform="translate(404.5,144.1) scale(1.65,1)" text-anchor="end" font-family='"Liberation Serif","DejaVu Serif",serif' font-size="7.5" fill="#5a5a5a">9</text>
<text transform="translate(404.5,114.1) scale(1.65,1)" text-anchor="end" font-family='"Liberation Serif","DejaVu Serif",serif' font-size="7.5" fill="#5a5a5a">12</text>
<text transform="translate(404.5,84) scale(1.65,1)" text-anchor="end" font-family='"Liberation Serif","DejaVu Serif",serif' font-size="7.5" fill="#5a5a5a">15</text>
<text transform="translate(404.5,53.9) scale(1.65,1)" text-anchor="end" font-family='"Liberation Serif","DejaVu Serif",serif' font-size="7.5" fill="#5a5a5a">18</text>
<text transform="translate(404.5,23.9) scale(1.65,1)" text-anchor="end" font-family='"Liberation Serif","DejaVu Serif",serif' font-size="7.5" fill="#5a5a5a">21</text>
<text x="547.8" y="256.1" text-anchor="middle" textLength="101.5" lengthAdjust="spacingAndGlyphs" font-family='"Liberation Serif","DejaVu Serif",serif' font-size="14.2" fill="#3c3c3c">Drought duration</text>
<text transform="translate(386.2,104.1) rotate(-90)" text-anchor="middle" textLength="95.8" lengthAdjust="spacingAndGlyphs" font-family='"Liberation Serif","DejaVu Serif",serif' font-size="14.2" fill="#3c3c3c">Drought intensity</text></g>
<g><clipPath id="cpb"><rect x="410.4" y="260.8" width="268" height="237.6"/></clipPath>
<path d="M681.2,414.8L639,414.6 623.7,414.3 610.1,414 598.4,413.5 588.3,413 579.2,412.2 571.1,411.4 563.3,410.2 556.5,408.9 549.9,407.3 544.4,405.5 539.2,403.4 534.9,401.2 532.4,399.7 530.5,398.4 528.6,397 526.9,395.5 525.2,393.9 523.6,392.3 522.1,390.5 520.4,388.2 517.9,384.3 516.7,382.2 515.4,379.5 513.3,374.3 511.6,368.8 510,362.3 508.7,355.6 507.6,347.8 506.8,339.8 506.1,330.9 505.5,320.2 505.1,308.6 504.7,294.6 504.3,258.1" stroke="#4e42aa" stroke-width="1" fill="none" clip-path="url(#cpb)"/>
<path d="M680.5,376.7L668.3,376 657.2,375.3 648,374.5 639,373.7 631.1,372.7 624.2,371.7 617.4,370.5 610.9,369.2 605.3,367.8 600,366.2 594.9,364.4 590,362.4 585.4,360.1 581.7,357.9 577.6,355 574.3,352.4 571.3,349.5 568.1,345.8 565.5,342.4 562.8,338.1 560.8,334.3 558.6,329.5 556.7,324.5 555.1,319.2 553.7,313.7 552.2,307.3 551,300.6 550,293.7 549.1,285.7 548.3,277.6 547.6,268.4 547,258.2" stroke="#5654cf" stroke-width="1" fill="none" clip-path="url(#cpb)"/>
<path d="M681,335.1L670.1,333.4 660.6,331.4 656,330.3 651.5,329.1 647.1,327.7 643.7,326.5 639.6,324.9 636.4,323.5 633.4,322.1 630.4,320.5 626.8,318.3 624.1,316.5 621.5,314.5 619,312.5 616.6,310.3 614.4,308 612.3,305.5 609.8,302.4 607.9,299.7 606.1,296.9 604.5,294 602.6,290.2 601.2,287.1 599.6,283 598.4,279.7 597.1,275.4 594.9,267.3 593.9,262.6 593,257.9" stroke="#48a2e2" stroke-width="1" fill="none" clip-path="url(#cpb)"/>
<path d="M675.8,261.1 L678.2,263.8" stroke="#eeee78" stroke-width="1.8" fill="none"/>
<g transform="translate(504.7,293.8) scale(1.22,1) rotate(89.1)"><rect x="-3.4" y="-4.2" width="6.9" height="8.4" fill="#fff"/><text y="3.3" text-anchor="middle" font-family='"Liberation Serif","DejaVu Serif",serif' font-size="10" fill="#1c1c1c">5</text></g>
<g transform="translate(509.6,360.3) scale(1.22,1) rotate(80.8)"><rect x="-3.4" y="-4.2" width="6.9" height="8.4" fill="#fff"/><text y="3.3" text-anchor="middle" font-family='"Liberation Serif","DejaVu Serif",serif' font-size="10" fill="#1c1c1c">5</text></g>
<g transform="translate(564.7,410.5) scale(1.22,1) rotate(10.9)"><rect x="-3.4" y="-4.2" width="6.9" height="8.4" fill="#fff"/><text y="3.3" text-anchor="middle" font-family='"Liberation Serif","DejaVu Serif",serif' font-size="10" fill="#1c1c1c">5</text></g>
<g transform="translate(668.1,414.8) scale(1.22,1) rotate(0.3)"><rect x="-3.4" y="-4.2" width="6.9" height="8.4" fill="#fff"/><text y="3.3" text-anchor="middle" font-family='"Liberation Serif","DejaVu Serif",serif' font-size="10" fill="#1c1c1c">5</text></g>
<g transform="translate(549.1,285.7) scale(1.22,1) rotate(85)"><rect x="-6" y="-4.2" width="12" height="8.4" fill="#fff"/><text y="3.3" text-anchor="middle" font-family='"Liberation Serif","DejaVu Serif",serif' font-size="10" fill="#1c1c1c">10</text></g>
<g transform="translate(572.8,350.9) scale(1.22,1) rotate(49.5)"><rect x="-6" y="-4.2" width="12" height="8.4" fill="#fff"/><text y="3.3" text-anchor="middle" font-family='"Liberation Serif","DejaVu Serif",serif' font-size="10" fill="#1c1c1c">10</text></g>
<g transform="translate(663.6,375.7) scale(1.22,1) rotate(4.5)"><rect x="-6" y="-4.2" width="12" height="8.4" fill="#fff"/><text y="3.3" text-anchor="middle" font-family='"Liberation Serif","DejaVu Serif",serif' font-size="10" fill="#1c1c1c">10</text></g>
<g transform="translate(599.9,283.8) scale(1.22,1) rotate(72.6)"><rect x="-6" y="-4.2" width="12" height="8.4" fill="#fff"/><text y="3.3" text-anchor="middle" font-family='"Liberation Serif","DejaVu Serif",serif' font-size="10" fill="#1c1c1c">20</text></g>
<g transform="translate(663.4,332) scale(1.22,1) rotate(14.5)"><rect x="-6" y="-4.2" width="12" height="8.4" fill="#fff"/><text y="3.3" text-anchor="middle" font-family='"Liberation Serif","DejaVu Serif",serif' font-size="10" fill="#1c1c1c">20</text></g>
<path d="M410.4,260.8H678.4V498.4H410.4Z M410.4,498.4v-2.6 M410.4,260.8v2.6 M442,498.4v-2.6 M442,260.8v2.6 M473.6,498.4v-2.6 M473.6,260.8v2.6 M505.2,498.4v-2.6 M505.2,260.8v2.6 M536.8,498.4v-2.6 M536.8,260.8v2.6 M568.4,498.4v-2.6 M568.4,260.8v2.6 M600,498.4v-2.6 M600,260.8v2.6 M631.6,498.4v-2.6 M631.6,260.8v2.6 M663.2,498.4v-2.6 M663.2,260.8v2.6 M410.4,498.4h2.6 M678.4,498.4h-2.6 M410.4,473.7h2.6 M678.4,473.7h-2.6 M410.4,449h2.6 M678.4,449h-2.6 M410.4,424.3h2.6 M678.4,424.3h-2.6 M410.4,399.6h2.6 M678.4,399.6h-2.6 M410.4,374.9h2.6 M678.4,374.9h-2.6 M410.4,350.2h2.6 M678.4,350.2h-2.6 M410.4,325.5h2.6 M678.4,325.5h-2.6 M410.4,300.8h2.6 M678.4,300.8h-2.6 M410.4,276.1h2.6 M678.4,276.1h-2.6" stroke="#919191" stroke-width="1.2" fill="none"/>
<text transform="translate(410.4,508.7) scale(1.65,1)" text-anchor="middle" font-family='"Liberation Serif","DejaVu Serif",serif' font-size="7.5" fill="#5a5a5a">0</text>
<text transform="translate(442,508.7) scale(1.65,1)" text-anchor="middle" font-family='"Liberation Serif","DejaVu Serif",serif' font-size="7.5" fill="#5a5a5a">2</text>
<text transform="translate(473.6,508.7) scale(1.65,1)" text-anchor="middle" font-family='"Liberation Serif","DejaVu Serif",serif' font-size="7.5" fill="#5a5a5a">4</text>
<text transform="translate(505.2,508.7) scale(1.65,1)" text-anchor="middle" font-family='"Liberation Serif","DejaVu Serif",serif' font-size="7.5" fill="#5a5a5a">6</text>
<text transform="translate(536.8,508.7) scale(1.65,1)" text-anchor="middle" font-family='"Liberation Serif","DejaVu Serif",serif' font-size="7.5" fill="#5a5a5a">8</text>
<text transform="translate(568.4,508.7) scale(1.65,1)" text-anchor="middle" font-family='"Liberation Serif","DejaVu Serif",serif' font-size="7.5" fill="#5a5a5a">10</text>
<text transform="translate(600,508.7) scale(1.65,1)" text-anchor="middle" font-family='"Liberation Serif","DejaVu Serif",serif' font-size="7.5" fill="#5a5a5a">12</text>
<text transform="translate(631.6,508.7) scale(1.65,1)" text-anchor="middle" font-family='"Liberation Serif","DejaVu Serif",serif' font-size="7.5" fill="#5a5a5a">14</text>
<text transform="translate(663.2,508.7) scale(1.65,1)" text-anchor="middle" font-family='"Liberation Serif","DejaVu Serif",serif' font-size="7.5" fill="#5a5a5a">16</text>
<text transform="translate(405.2,501) scale(1.65,1)" text-anchor="end" font-family='"Liberation Serif","DejaVu Serif",serif' font-size="7.5" fill="#5a5a5a">0</text>
<text transform="translate(405.2,476.3) scale(1.65,1)" text-anchor="end" font-family='"Liberation Serif","DejaVu Serif",serif' font-size="7.5" fill="#5a5a5a">2</text>
<text transform="translate(405.2,451.6) scale(1.65,1)" text-anchor="end" font-family='"Liberation Serif","DejaVu Serif",serif' font-size="7.5" fill="#5a5a5a">4</text>
<text transform="translate(405.2,426.9) scale(1.65,1)" text-anchor="end" font-family='"Liberation Serif","DejaVu Serif",serif' font-size="7.5" fill="#5a5a5a">6</text>
<text transform="translate(405.2,402.2) scale(1.65,1)" text-anchor="end" font-family='"Liberation Serif","DejaVu Serif",serif' font-size="7.5" fill="#5a5a5a">8</text>
<text transform="translate(405.2,377.5) scale(1.65,1)" text-anchor="end" font-family='"Liberation Serif","DejaVu Serif",serif' font-size="7.5" fill="#5a5a5a">10</text>
<text transform="translate(405.2,352.8) scale(1.65,1)" text-anchor="end" font-family='"Liberation Serif","DejaVu Serif",serif' font-size="7.5" fill="#5a5a5a">12</text>
<text transform="translate(405.2,328.1) scale(1.65,1)" text-anchor="end" font-family='"Liberation Serif","DejaVu Serif",serif' font-size="7.5" fill="#5a5a5a">14</text>
<text transform="translate(405.2,303.4) scale(1.65,1)" text-anchor="end" font-family='"Liberation Serif","DejaVu Serif",serif' font-size="7.5" fill="#5a5a5a">16</text>
<text transform="translate(405.2,278.7) scale(1.65,1)" text-anchor="end" font-family='"Liberation Serif","DejaVu Serif",serif' font-size="7.5" fill="#5a5a5a">18</text>
<text x="542.8" y="522.9" text-anchor="middle" textLength="101.1" lengthAdjust="spacingAndGlyphs" font-family='"Liberation Serif","DejaVu Serif",serif' font-size="14.2" fill="#3c3c3c">Drought duration</text>
<text transform="translate(383.8,360.9) rotate(-90)" text-anchor="middle" textLength="95.1" lengthAdjust="spacingAndGlyphs" font-family='"Liberation Serif","DejaVu Serif",serif' font-size="14.2" fill="#3c3c3c">Drought intensity</text></g>
<g><clipPath id="cpc"><rect x="410.9" y="527.6" width="267.5" height="239.5"/></clipPath>
<path d="M681.4,683.5L639.2,683.2 623.7,682.9 610.8,682.6 598.8,682.1 588.6,681.5 579.4,680.8 571.2,679.8 563.3,678.7 556.4,677.3 550.4,675.8 544.8,674 539.6,671.8 535.2,669.6 532.7,668 530.7,666.6 528.9,665.2 527.1,663.7 525.5,662.1 523.9,660.4 522.4,658.7 520.6,656.3 518.1,652.3 517,650.2 515.7,647.5 513.6,642.2 511.8,636.7 510.3,630.1 509,623.3 507.9,615.5 507.1,607.5 506.4,598.5 505.8,587.8 505.4,576.1 505,562 504.6,525.3" stroke="#4e42aa" stroke-width="1" fill="none" clip-path="url(#cpc)"/>
<path d="M680.7,645.2L668.6,644.3 657.6,643.4 647.6,642.3 638.7,641.3 630.9,640.2 623.2,639 616.5,637.7 610.1,636.2 603.9,634.5 598.6,632.9 593.6,631 588.9,628.9 584.4,626.6 580.8,624.4 576.8,621.5 573.7,618.9 570.7,616 567.6,612.4 565.2,609.1 562.6,605 560.3,600.7 558.3,596.1 556.5,591.2 554.9,586.2 553.6,581 552.2,574.8 551.1,568.4 550,561.1 549.1,553.6 548.3,545.1 547.6,535.6 547,525" stroke="#5654cf" stroke-width="1" fill="none" clip-path="url(#cpc)"/>
<path d="M681.1,602.3L670.1,600.6 664.8,599.6 659.6,598.5 654.5,597.3 650.4,596.1 646.4,594.9 642.5,593.6 638.8,592.2 635.2,590.7 631.7,589.1 629,587.6 625.8,585.8 622.8,583.7 619.9,581.6 617.8,579.7 615.7,577.8 613.3,575.3 611,572.6 608.9,569.8 607.4,567.5 605.6,564.4 603.9,561.2 602.4,557.9 601,554.5 599.7,551 598.6,547.4 597.4,543 596.5,539.1 595.5,534.5 593.9,524.9" stroke="#48a2e2" stroke-width="1" fill="none" clip-path="url(#cpc)"/>
<path d="M675.8,527.9 L678.2,530.6" stroke="#eeee78" stroke-width="1.8" fill="none"/>
<g transform="translate(505,561.2) scale(1.22,1) rotate(89.1)"><rect x="-3.4" y="-4.2" width="6.9" height="8.4" fill="#fff"/><text y="3.3" text-anchor="middle" font-family='"Liberation Serif","DejaVu Serif",serif' font-size="10" fill="#1c1c1c">5</text></g>
<g transform="translate(510.1,629.5) scale(1.22,1) rotate(80.4)"><rect x="-3.4" y="-4.2" width="6.9" height="8.4" fill="#fff"/><text y="3.3" text-anchor="middle" font-family='"Liberation Serif","DejaVu Serif",serif' font-size="10" fill="#1c1c1c">5</text></g>
<g transform="translate(564.7,678.9) scale(1.22,1) rotate(11.3)"><rect x="-3.4" y="-4.2" width="6.9" height="8.4" fill="#fff"/><text y="3.3" text-anchor="middle" font-family='"Liberation Serif","DejaVu Serif",serif' font-size="10" fill="#1c1c1c">5</text></g>
<g transform="translate(668.1,683.5) scale(1.22,1) rotate(0.4)"><rect x="-3.4" y="-4.2" width="6.9" height="8.4" fill="#fff"/><text y="3.3" text-anchor="middle" font-family='"Liberation Serif","DejaVu Serif",serif' font-size="10" fill="#1c1c1c">5</text></g>
<g transform="translate(549.1,553.6) scale(1.22,1) rotate(85)"><rect x="-6" y="-4.2" width="12" height="8.4" fill="#fff"/><text y="3.3" text-anchor="middle" font-family='"Liberation Serif","DejaVu Serif",serif' font-size="10" fill="#1c1c1c">10</text></g>
<g transform="translate(573.2,618.4) scale(1.22,1) rotate(48.5)"><rect x="-6" y="-4.2" width="12" height="8.4" fill="#fff"/><text y="3.3" text-anchor="middle" font-family='"Liberation Serif","DejaVu Serif",serif' font-size="10" fill="#1c1c1c">10</text></g>
<g transform="translate(664,643.9) scale(1.22,1) rotate(6)"><rect x="-6" y="-4.2" width="12" height="8.4" fill="#fff"/><text y="3.3" text-anchor="middle" font-family='"Liberation Serif","DejaVu Serif",serif' font-size="10" fill="#1c1c1c">10</text></g>
<g transform="translate(599.7,551) scale(1.22,1) rotate(74.6)"><rect x="-6" y="-4.2" width="12" height="8.4" fill="#fff"/><text y="3.3" text-anchor="middle" font-family='"Liberation Serif","DejaVu Serif",serif' font-size="10" fill="#1c1c1c">20</text></g>
<g transform="translate(664.8,599.6) scale(1.22,1) rotate(13.6)"><rect x="-6" y="-4.2" width="12" height="8.4" fill="#fff"/><text y="3.3" text-anchor="middle" font-family='"Liberation Serif","DejaVu Serif",serif' font-size="10" fill="#1c1c1c">20</text></g>
<path d="M410.9,527.6H678.4V767.1H410.9Z M410.9,767.1v-2.6 M410.9,527.6v2.6 M441.4,767.1v-2.6 M441.4,527.6v2.6 M471.9,767.1v-2.6 M471.9,527.6v2.6 M502.4,767.1v-2.6 M502.4,527.6v2.6 M532.9,767.1v-2.6 M532.9,527.6v2.6 M563.4,767.1v-2.6 M563.4,527.6v2.6 M593.9,767.1v-2.6 M593.9,527.6v2.6 M624.4,767.1v-2.6 M624.4,527.6v2.6 M654.9,767.1v-2.6 M654.9,527.6v2.6 M410.9,767.1h2.6 M678.4,767.1h-2.6 M410.9,733.4h2.6 M678.4,733.4h-2.6 M410.9,699.8h2.6 M678.4,699.8h-2.6 M410.9,666.1h2.6 M678.4,666.1h-2.6 M410.9,632.5h2.6 M678.4,632.5h-2.6 M410.9,598.8h2.6 M678.4,598.8h-2.6 M410.9,565.1h2.6 M678.4,565.1h-2.6 M410.9,531.5h2.6 M678.4,531.5h-2.6" stroke="#919191" stroke-width="1.2" fill="none"/>
<text transform="translate(410.9,777.4) scale(1.65,1)" text-anchor="middle" font-family='"Liberation Serif","DejaVu Serif",serif' font-size="7.5" fill="#5a5a5a">0</text>
<text transform="translate(441.4,777.4) scale(1.65,1)" text-anchor="middle" font-family='"Liberation Serif","DejaVu Serif",serif' font-size="7.5" fill="#5a5a5a">2</text>
<text transform="translate(471.9,777.4) scale(1.65,1)" text-anchor="middle" font-family='"Liberation Serif","DejaVu Serif",serif' font-size="7.5" fill="#5a5a5a">4</text>
<text transform="translate(502.4,777.4) scale(1.65,1)" text-anchor="middle" font-family='"Liberation Serif","DejaVu Serif",serif' font-size="7.5" fill="#5a5a5a">6</text>
<text transform="translate(532.9,777.4) scale(1.65,1)" text-anchor="middle" font-family='"Liberation Serif","DejaVu Serif",serif' font-size="7.5" fill="#5a5a5a">8</text>
<text transform="translate(563.4,777.4) scale(1.65,1)" text-anchor="middle" font-family='"Liberation Serif","DejaVu Serif",serif' font-size="7.5" fill="#5a5a5a">10</text>
<text transform="translate(593.9,777.4) scale(1.65,1)" text-anchor="middle" font-family='"Liberation Serif","DejaVu Serif",serif' font-size="7.5" fill="#5a5a5a">12</text>
<text transform="translate(624.4,777.4) scale(1.65,1)" text-anchor="middle" font-family='"Liberation Serif","DejaVu Serif",serif' font-size="7.5" fill="#5a5a5a">14</text>
<text transform="translate(654.9,777.4) scale(1.65,1)" text-anchor="middle" font-family='"Liberation Serif","DejaVu Serif",serif' font-size="7.5" fill="#5a5a5a">16</text>
<text transform="translate(405.7,769.7) scale(1.65,1)" text-anchor="end" font-family='"Liberation Serif","DejaVu Serif",serif' font-size="7.5" fill="#5a5a5a">0</text>
<text transform="translate(405.7,736) scale(1.65,1)" text-anchor="end" font-family='"Liberation Serif","DejaVu Serif",serif' font-size="7.5" fill="#5a5a5a">3</text>
<text transform="translate(405.7,702.4) scale(1.65,1)" text-anchor="end" font-family='"Liberation Serif","DejaVu Serif",serif' font-size="7.5" fill="#5a5a5a">6</text>
<text transform="translate(405.7,668.7) scale(1.65,1)" text-anchor="end" font-family='"Liberation Serif","DejaVu Serif",serif' font-size="7.5" fill="#5a5a5a">9</text>
<text transform="translate(405.7,635.1) scale(1.65,1)" text-anchor="end" font-family='"Liberation Serif","DejaVu Serif",serif' font-size="7.5" fill="#5a5a5a">12</text>
<text transform="translate(405.7,601.4) scale(1.65,1)" text-anchor="end" font-family='"Liberation Serif","DejaVu Serif",serif' font-size="7.5" fill="#5a5a5a">15</text>
<text transform="translate(405.7,567.7) scale(1.65,1)" text-anchor="end" font-family='"Liberation Serif","DejaVu Serif",serif' font-size="7.5" fill="#5a5a5a">18</text>
<text transform="translate(405.7,534.1) scale(1.65,1)" text-anchor="end" font-family='"Liberation Serif","DejaVu Serif",serif' font-size="7.5" fill="#5a5a5a">21</text>
<text x="548" y="792.6" text-anchor="middle" textLength="101.1" lengthAdjust="spacingAndGlyphs" font-family='"Liberation Serif","DejaVu Serif",serif' font-size="14.2" fill="#3c3c3c">Drought duration</text>
<text transform="translate(387.4,651.8) rotate(-90)" text-anchor="middle" textLength="95.1" lengthAdjust="spacingAndGlyphs" font-family='"Liberation Serif","DejaVu Serif",serif' font-size="14.2" fill="#3c3c3c">Drought intensity</text></g>
</svg></body></html>
